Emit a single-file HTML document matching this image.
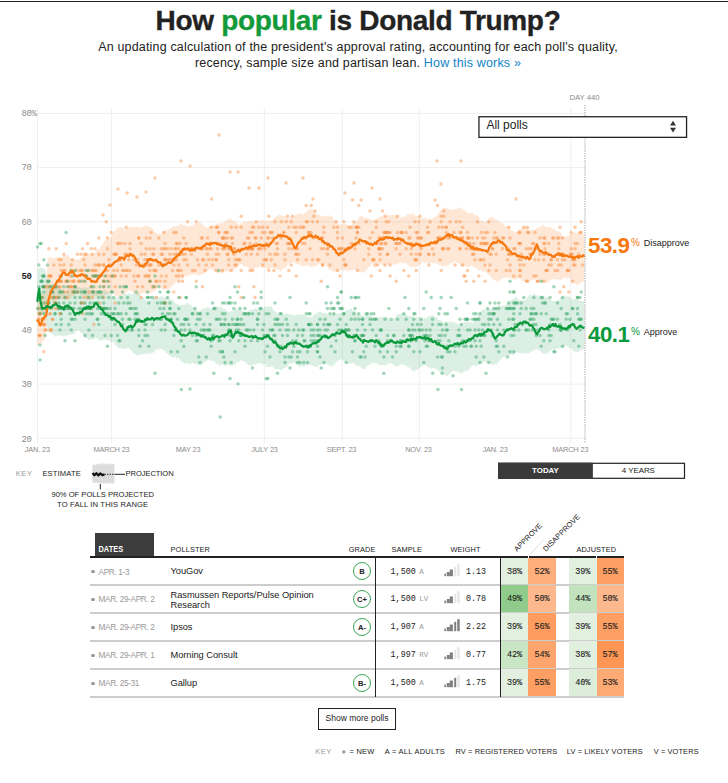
<!DOCTYPE html>
<html><head><meta charset="utf-8"><title>How popular is Donald Trump?</title>
<style>
html,body{margin:0;padding:0;background:#fff}
body{width:728px;height:783px;position:relative;overflow:hidden;font-family:"Liberation Sans",sans-serif;color:#222}
.abs,div,span.a{position:absolute}
.topline{left:0;top:1px;width:728px;height:1px;background:#222}
h1{position:absolute;margin:0;left:0;width:716px;top:5.2px;text-align:center;font-size:28px;line-height:32px;font-weight:bold;letter-spacing:-0.32px;color:#222;white-space:nowrap;-webkit-text-stroke:0.35px currentColor}
h1 b{color:#129a3a}
.sub{left:0;width:716px;text-align:center;font-size:12.5px;line-height:16px;color:#222;white-space:nowrap;letter-spacing:0.17px}
.sub a{color:#1385c8;text-decoration:none}
.ylab{font-family:"Liberation Mono",monospace;font-size:9px;color:#8e8e8e;left:21.5px;line-height:10px;letter-spacing:-0.45px}
.xlab{font-size:7.4px;color:#8c8c8c;line-height:10px;text-align:center;width:60px;top:444.5px;letter-spacing:-0.15px}
.day{left:569.5px;top:92.5px;font-size:7.7px;color:#8c8c8c;line-height:10px;white-space:nowrap}
.select{left:478px;top:116px;width:207px;height:20px;border:1.5px solid #222;background:#fff;font-size:11.6px;line-height:19px}
.selt{left:486.4px;top:116.4px;font-size:12px;line-height:19px;white-space:nowrap}
.big{font-weight:bold;font-size:22.3px;line-height:24px;white-space:nowrap;letter-spacing:-0.5px}
.pct{font-size:10px;line-height:12px}
.lab{font-size:9px;line-height:12px;color:#222;white-space:nowrap}
.key{font-size:7.6px;line-height:10px;white-space:nowrap;letter-spacing:0.15px}
.btn{top:463.9px;height:14px;font-size:7.9px;line-height:14.4px;text-align:center}
.th{font-size:7.4px;line-height:10px;top:544.9px;color:#222;white-space:nowrap;letter-spacing:0.1px}
.sep{left:90px;width:533.6px;height:1.8px;background:#cdcdcd}
.cell{font-family:"Liberation Mono",monospace;font-size:8.5px;text-align:center;color:#222;letter-spacing:-0.1px;-webkit-text-stroke:0.1px #222}
.dot{left:91.2px;width:3.6px;height:3.6px;border-radius:2px;background:#999}
.date{left:98.5px;font-size:8.3px;line-height:12px;color:#999;white-space:nowrap;letter-spacing:-0.38px}
.poll{left:170.5px;font-size:9.3px;line-height:13px;color:#222;white-space:nowrap;letter-spacing:-0.05px}
.grade{left:352.8px;width:16.4px;height:16.4px;border:1px solid #3aa655;border-radius:10px;text-align:center;font-weight:bold;font-size:7.6px;line-height:17px;color:#222}
.mono{font-family:"Liberation Mono",monospace;font-size:8.4px;line-height:12px;color:#222;white-space:nowrap}
.samp{left:390.6px}
.pop{color:#999;position:static;-webkit-text-stroke:0;font-size:7.5px;margin-left:-1.4px}
.wt{left:466px}
.bars{left:443.9px;width:16px;height:12.2px}
.bars i{position:absolute;bottom:0;width:2.7px;display:block}
.more{left:318px;top:708.3px;width:76px;height:19.5px;border:1px solid #222;font-size:8.5px;line-height:19.3px;text-align:center;white-space:nowrap}
.foot{top:746.5px;font-size:7.45px;line-height:10px;white-space:nowrap;color:#222;letter-spacing:0.1px}
</style></head><body>
<div class="topline"></div>
<h1>How <b>popular</b> is Donald Trump?</h1>
<div class="sub" style="top:38.6px">An updating calculation of the president's approval rating, accounting for each poll's quality,</div>
<div class="sub" style="top:55.1px">recency, sample size and partisan lean. <a>How this works &raquo;</a></div>
<svg width="728" height="500" style="position:absolute;left:0;top:0" shape-rendering="geometricPrecision">
<line x1="37.5" x2="585" y1="113.5" y2="113.5" stroke="#efefef" stroke-width="1"/>
<line x1="37.5" x2="585" y1="167.6" y2="167.6" stroke="#efefef" stroke-width="1"/>
<line x1="37.5" x2="585" y1="221.8" y2="221.8" stroke="#efefef" stroke-width="1"/>
<line x1="37.5" x2="585" y1="330.0" y2="330.0" stroke="#efefef" stroke-width="1"/>
<line x1="37.5" x2="585" y1="384.2" y2="384.2" stroke="#efefef" stroke-width="1"/>
<line x1="37.5" x2="585" y1="438.3" y2="438.3" stroke="#efefef" stroke-width="1"/>
<line x1="37.5" x2="37.5" y1="108" y2="443" stroke="#efefef" stroke-width="1"/>
<line x1="111.4" x2="111.4" y1="108" y2="443" stroke="#efefef" stroke-width="1"/>
<line x1="264.3" x2="264.3" y1="108" y2="443" stroke="#efefef" stroke-width="1"/>
<line x1="342.3" x2="342.3" y1="108" y2="443" stroke="#efefef" stroke-width="1"/>
<line x1="419.3" x2="419.3" y1="108" y2="443" stroke="#efefef" stroke-width="1"/>
<line x1="570.8" x2="570.8" y1="108" y2="443" stroke="#efefef" stroke-width="1"/>
<path d="M37.5 293.3 L38.8 293.5 L40.1 294.1 L41.4 293.1 L42.7 292.7 L44.0 293.9 L45.3 291.1 L46.6 279.0 L47.9 258.0 L49.2 257.4 L50.5 256.9 L51.8 257.7 L53.1 258.2 L54.4 258.1 L55.7 258.4 L57.0 256.8 L58.3 257.4 L59.6 256.6 L60.9 258.1 L62.2 257.4 L63.5 255.1 L64.8 255.8 L66.1 255.6 L67.4 254.6 L68.7 256.0 L70.0 257.7 L71.3 258.4 L72.6 258.5 L73.9 260.4 L75.2 259.6 L76.5 260.1 L77.8 259.3 L79.1 259.7 L80.4 257.8 L81.7 257.0 L83.0 255.7 L84.3 254.2 L85.6 255.1 L86.9 254.2 L88.2 254.1 L89.5 253.1 L90.8 252.9 L92.1 253.8 L93.4 254.2 L94.7 253.9 L96.0 251.4 L97.3 249.3 L98.6 248.9 L99.9 248.6 L101.2 245.2 L102.5 244.9 L103.8 242.0 L105.1 240.7 L106.4 239.7 L107.7 239.4 L109.0 238.4 L110.3 238.2 L111.6 236.3 L112.9 232.5 L114.2 231.1 L115.5 231.1 L116.8 228.1 L118.1 227.6 L119.4 227.4 L120.7 226.7 L122.0 227.6 L123.3 228.4 L124.6 228.5 L125.9 229.8 L127.2 227.8 L128.5 227.1 L129.8 228.1 L131.1 226.6 L132.4 227.4 L133.7 226.9 L135.0 227.5 L136.3 226.6 L137.6 226.5 L138.9 228.1 L140.2 227.4 L141.5 227.3 L142.8 227.2 L144.1 226.9 L145.4 225.3 L146.7 225.3 L148.0 226.8 L149.3 226.4 L150.6 226.8 L151.9 229.0 L153.2 229.6 L154.5 232.3 L155.8 231.7 L157.1 234.4 L158.4 234.1 L159.7 233.5 L161.0 234.4 L162.3 232.1 L163.6 231.4 L164.9 230.4 L166.2 230.5 L167.5 230.0 L168.8 229.2 L170.1 228.0 L171.4 228.5 L172.7 226.3 L174.0 226.1 L175.3 226.2 L176.6 226.4 L177.9 225.0 L179.2 224.7 L180.5 224.6 L181.8 223.8 L183.1 225.4 L184.4 225.5 L185.7 225.2 L187.0 226.0 L188.3 227.3 L189.6 226.3 L190.9 225.5 L192.2 226.5 L193.5 224.9 L194.8 224.0 L196.1 223.6 L197.4 223.8 L198.7 221.9 L200.0 222.8 L201.3 222.9 L202.6 224.6 L203.9 225.8 L205.2 227.4 L206.5 227.4 L207.8 227.3 L209.1 226.7 L210.4 226.6 L211.7 225.3 L213.0 226.0 L214.3 225.3 L215.6 225.0 L216.9 223.1 L218.2 224.1 L219.5 224.1 L220.8 223.1 L222.1 223.5 L223.4 222.7 L224.7 221.5 L226.0 220.7 L227.3 219.5 L228.6 219.5 L229.9 217.6 L231.2 219.3 L232.5 220.1 L233.8 220.9 L235.1 221.3 L236.4 221.8 L237.7 224.0 L239.0 225.0 L240.3 223.7 L241.6 223.1 L242.9 222.5 L244.2 221.4 L245.5 222.1 L246.8 222.2 L248.1 221.5 L249.4 220.4 L250.7 221.4 L252.0 220.2 L253.3 222.3 L254.6 221.3 L255.9 220.6 L257.2 221.9 L258.5 220.5 L259.8 220.6 L261.1 219.8 L262.4 220.4 L263.7 220.5 L265.0 221.2 L266.3 219.6 L267.6 221.7 L268.9 220.1 L270.2 220.2 L271.5 220.7 L272.8 219.2 L274.1 218.1 L275.4 217.5 L276.7 215.5 L278.0 216.0 L279.3 214.1 L280.6 215.5 L281.9 215.8 L283.2 215.8 L284.5 215.4 L285.8 218.0 L287.1 216.8 L288.4 218.3 L289.7 218.1 L291.0 216.8 L292.3 217.6 L293.6 217.0 L294.9 215.9 L296.2 214.7 L297.5 214.4 L298.8 214.1 L300.1 212.8 L301.4 214.2 L302.7 214.3 L304.0 213.4 L305.3 213.1 L306.6 210.8 L307.9 211.6 L309.2 208.8 L310.5 209.4 L311.8 208.7 L313.1 210.1 L314.4 211.6 L315.7 212.9 L317.0 213.6 L318.3 214.5 L319.6 215.1 L320.9 216.2 L322.2 216.2 L323.5 215.8 L324.8 216.8 L326.1 215.9 L327.4 215.5 L328.7 214.9 L330.0 216.4 L331.3 216.0 L332.6 217.3 L333.9 219.2 L335.2 220.7 L336.5 222.4 L337.8 222.7 L339.1 223.9 L340.4 224.3 L341.7 224.3 L343.0 224.7 L344.3 223.8 L345.6 224.5 L346.9 224.0 L348.2 226.1 L349.5 225.8 L350.8 225.4 L352.1 224.1 L353.4 223.4 L354.7 221.8 L356.0 221.5 L357.3 220.9 L358.6 217.9 L359.9 216.2 L361.2 215.9 L362.5 216.2 L363.8 217.8 L365.1 218.2 L366.4 218.2 L367.7 218.1 L369.0 218.7 L370.3 219.1 L371.6 220.6 L372.9 219.5 L374.2 220.2 L375.5 219.4 L376.8 218.5 L378.1 217.3 L379.4 217.7 L380.7 216.0 L382.0 216.1 L383.3 217.3 L384.6 217.1 L385.9 216.0 L387.2 215.6 L388.5 214.4 L389.8 215.8 L391.1 214.8 L392.4 215.0 L393.7 215.1 L395.0 214.2 L396.3 215.6 L397.6 215.6 L398.9 217.5 L400.2 218.2 L401.5 216.9 L402.8 216.5 L404.1 216.5 L405.4 216.7 L406.7 215.3 L408.0 213.5 L409.3 214.8 L410.6 214.3 L411.9 213.6 L413.2 213.0 L414.5 215.7 L415.8 215.6 L417.1 215.3 L418.4 216.6 L419.7 217.8 L421.0 218.7 L422.3 217.9 L423.6 218.3 L424.9 217.4 L426.2 217.7 L427.5 219.6 L428.8 218.8 L430.1 218.5 L431.4 219.6 L432.7 218.1 L434.0 217.6 L435.3 217.1 L436.6 216.0 L437.9 214.4 L439.2 212.8 L440.5 210.6 L441.8 208.3 L443.1 209.0 L444.4 206.9 L445.7 207.9 L447.0 208.0 L448.3 209.0 L449.6 209.4 L450.9 208.7 L452.2 210.0 L453.5 210.1 L454.8 209.2 L456.1 208.0 L457.4 209.4 L458.7 208.3 L460.0 206.9 L461.3 207.9 L462.6 210.5 L463.9 209.6 L465.2 210.8 L466.5 212.5 L467.8 213.1 L469.1 213.0 L470.4 213.5 L471.7 212.0 L473.0 212.5 L474.3 215.1 L475.6 215.5 L476.9 214.8 L478.2 216.2 L479.5 218.1 L480.8 221.0 L482.1 220.1 L483.4 221.6 L484.7 222.2 L486.0 221.1 L487.3 221.1 L488.6 218.7 L489.9 217.6 L491.2 216.7 L492.5 218.3 L493.8 216.9 L495.1 219.6 L496.4 219.8 L497.7 219.5 L499.0 222.0 L500.3 221.4 L501.6 223.2 L502.9 223.0 L504.2 225.3 L505.5 226.2 L506.8 227.0 L508.1 225.6 L509.4 228.6 L510.7 229.0 L512.0 230.7 L513.3 230.9 L514.6 231.8 L515.9 231.8 L517.2 232.0 L518.5 229.5 L519.8 228.5 L521.1 228.7 L522.4 227.3 L523.7 227.0 L525.0 225.9 L526.3 227.9 L527.6 226.8 L528.9 229.5 L530.2 230.3 L531.5 229.9 L532.8 229.2 L534.1 230.3 L535.4 228.7 L536.7 228.5 L538.0 226.9 L539.3 228.1 L540.6 226.4 L541.9 225.5 L543.2 224.7 L544.5 226.2 L545.8 227.0 L547.1 227.7 L548.4 226.5 L549.7 227.6 L551.0 227.8 L552.3 229.2 L553.6 228.0 L554.9 229.6 L556.2 231.1 L557.5 231.6 L558.8 231.0 L560.1 232.5 L561.4 233.8 L562.7 236.2 L564.0 236.7 L565.3 236.8 L566.6 236.4 L567.9 235.7 L569.2 235.2 L570.5 234.2 L571.8 233.8 L573.1 232.6 L574.4 232.3 L575.7 232.5 L577.0 232.5 L578.3 232.7 L579.6 231.7 L580.9 233.8 L582.2 234.7 L583.5 233.9 L584.4 234.0 L584.4 280.0 L583.5 281.7 L582.2 281.4 L580.9 283.4 L579.6 283.0 L578.3 285.2 L577.0 285.3 L575.7 283.6 L574.4 283.9 L573.1 282.0 L571.8 281.4 L570.5 278.9 L569.2 277.6 L567.9 278.2 L566.6 278.8 L565.3 277.1 L564.0 278.1 L562.7 278.2 L561.4 279.5 L560.1 280.0 L558.8 278.9 L557.5 280.1 L556.2 280.0 L554.9 278.7 L553.6 279.1 L552.3 279.3 L551.0 279.7 L549.7 280.9 L548.4 282.1 L547.1 282.5 L545.8 282.6 L544.5 283.1 L543.2 282.4 L541.9 281.3 L540.6 282.6 L539.3 281.6 L538.0 278.8 L536.7 278.1 L535.4 280.3 L534.1 280.0 L532.8 279.5 L531.5 280.2 L530.2 280.4 L528.9 282.7 L527.6 281.7 L526.3 281.2 L525.0 280.9 L523.7 280.7 L522.4 281.0 L521.1 279.8 L519.8 277.9 L518.5 277.9 L517.2 278.7 L515.9 279.5 L514.6 279.5 L513.3 279.0 L512.0 279.4 L510.7 277.8 L509.4 277.6 L508.1 278.4 L506.8 276.7 L505.5 278.4 L504.2 277.9 L502.9 278.2 L501.6 278.9 L500.3 280.2 L499.0 280.8 L497.7 281.9 L496.4 280.8 L495.1 280.1 L493.8 280.7 L492.5 278.0 L491.2 277.8 L489.9 275.5 L488.6 274.5 L487.3 273.7 L486.0 271.8 L484.7 271.7 L483.4 272.2 L482.1 271.1 L480.8 269.7 L479.5 270.4 L478.2 270.0 L476.9 268.8 L475.6 267.8 L474.3 267.6 L473.0 266.7 L471.7 266.1 L470.4 265.5 L469.1 266.9 L467.8 266.7 L466.5 266.1 L465.2 267.1 L463.9 265.7 L462.6 266.9 L461.3 266.4 L460.0 264.2 L458.7 262.8 L457.4 263.7 L456.1 261.8 L454.8 261.0 L453.5 262.5 L452.2 263.4 L450.9 262.3 L449.6 264.4 L448.3 265.7 L447.0 266.6 L445.7 266.6 L444.4 265.6 L443.1 267.2 L441.8 266.3 L440.5 265.0 L439.2 264.7 L437.9 264.4 L436.6 262.4 L435.3 263.7 L434.0 263.3 L432.7 263.1 L431.4 262.8 L430.1 262.9 L428.8 263.7 L427.5 262.2 L426.2 262.8 L424.9 263.4 L423.6 261.4 L422.3 261.9 L421.0 264.3 L419.7 265.0 L418.4 265.8 L417.1 266.3 L415.8 267.3 L414.5 266.8 L413.2 266.5 L411.9 267.1 L410.6 266.7 L409.3 266.1 L408.0 265.1 L406.7 263.5 L405.4 262.6 L404.1 263.3 L402.8 263.6 L401.5 262.4 L400.2 262.8 L398.9 262.8 L397.6 263.5 L396.3 265.7 L395.0 263.6 L393.7 264.3 L392.4 265.3 L391.1 263.4 L389.8 264.8 L388.5 264.6 L387.2 264.3 L385.9 265.2 L384.6 264.4 L383.3 264.7 L382.0 265.2 L380.7 264.1 L379.4 263.9 L378.1 263.1 L376.8 264.6 L375.5 263.6 L374.2 263.5 L372.9 263.0 L371.6 263.9 L370.3 267.1 L369.0 266.6 L367.7 268.5 L366.4 269.7 L365.1 272.2 L363.8 272.6 L362.5 272.6 L361.2 272.0 L359.9 272.4 L358.6 270.4 L357.3 271.8 L356.0 269.8 L354.7 270.1 L353.4 269.2 L352.1 270.9 L350.8 270.2 L349.5 270.5 L348.2 270.3 L346.9 271.7 L345.6 269.7 L344.3 270.0 L343.0 271.1 L341.7 269.2 L340.4 271.0 L339.1 269.7 L337.8 270.8 L336.5 272.1 L335.2 271.2 L333.9 272.4 L332.6 271.2 L331.3 270.6 L330.0 269.1 L328.7 269.7 L327.4 266.1 L326.1 266.4 L324.8 264.7 L323.5 265.3 L322.2 264.2 L320.9 264.6 L319.6 263.8 L318.3 264.4 L317.0 265.9 L315.7 265.6 L314.4 266.3 L313.1 266.0 L311.8 267.8 L310.5 266.7 L309.2 265.4 L307.9 265.0 L306.6 266.5 L305.3 265.1 L304.0 266.3 L302.7 266.1 L301.4 266.5 L300.1 265.8 L298.8 263.9 L297.5 264.6 L296.2 263.8 L294.9 263.0 L293.6 261.9 L292.3 262.5 L291.0 263.3 L289.7 263.5 L288.4 263.5 L287.1 266.1 L285.8 267.9 L284.5 267.7 L283.2 269.1 L281.9 270.4 L280.6 271.8 L279.3 269.5 L278.0 269.5 L276.7 269.7 L275.4 268.0 L274.1 268.0 L272.8 268.1 L271.5 267.3 L270.2 269.1 L268.9 268.6 L267.6 269.8 L266.3 268.2 L265.0 267.5 L263.7 267.4 L262.4 268.5 L261.1 266.5 L259.8 266.4 L258.5 267.1 L257.2 268.4 L255.9 266.8 L254.6 269.2 L253.3 269.9 L252.0 270.0 L250.7 269.3 L249.4 269.4 L248.1 267.4 L246.8 266.2 L245.5 266.4 L244.2 266.5 L242.9 264.9 L241.6 264.6 L240.3 264.2 L239.0 265.2 L237.7 267.0 L236.4 267.8 L235.1 268.8 L233.8 270.5 L232.5 270.4 L231.2 270.7 L229.9 272.4 L228.6 271.8 L227.3 271.0 L226.0 271.9 L224.7 271.1 L223.4 271.8 L222.1 273.6 L220.8 273.4 L219.5 272.0 L218.2 273.9 L216.9 272.5 L215.6 272.3 L214.3 270.9 L213.0 270.2 L211.7 269.2 L210.4 268.9 L209.1 269.2 L207.8 271.0 L206.5 271.0 L205.2 271.9 L203.9 274.3 L202.6 273.9 L201.3 274.2 L200.0 275.5 L198.7 275.2 L197.4 274.6 L196.1 275.5 L194.8 273.5 L193.5 274.7 L192.2 273.8 L190.9 275.5 L189.6 274.1 L188.3 276.5 L187.0 275.2 L185.7 275.9 L184.4 276.8 L183.1 278.3 L181.8 279.1 L180.5 279.1 L179.2 281.2 L177.9 279.8 L176.6 280.9 L175.3 282.1 L174.0 284.5 L172.7 285.7 L171.4 287.2 L170.1 287.4 L168.8 290.2 L167.5 289.1 L166.2 289.0 L164.9 289.7 L163.6 289.5 L162.3 288.8 L161.0 288.3 L159.7 286.7 L158.4 288.4 L157.1 287.2 L155.8 290.2 L154.5 290.1 L153.2 292.6 L151.9 291.5 L150.6 293.7 L149.3 293.3 L148.0 294.0 L146.7 293.4 L145.4 293.1 L144.1 292.7 L142.8 293.0 L141.5 294.8 L140.2 293.9 L138.9 295.2 L137.6 295.9 L136.3 294.7 L135.0 293.3 L133.7 292.7 L132.4 292.5 L131.1 290.9 L129.8 290.4 L128.5 290.4 L127.2 291.3 L125.9 292.9 L124.6 293.6 L123.3 294.7 L122.0 295.6 L120.7 296.4 L119.4 297.6 L118.1 295.9 L116.8 295.4 L115.5 295.9 L114.2 293.5 L112.9 293.4 L111.6 292.9 L110.3 293.8 L109.0 293.8 L107.7 294.1 L106.4 294.6 L105.1 294.7 L103.8 294.6 L102.5 297.1 L101.2 296.7 L99.9 295.8 L98.6 295.2 L97.3 297.5 L96.0 296.2 L94.7 296.4 L93.4 296.7 L92.1 299.5 L90.8 299.4 L89.5 300.4 L88.2 299.3 L86.9 300.4 L85.6 298.8 L84.3 298.1 L83.0 296.6 L81.7 294.6 L80.4 295.6 L79.1 294.0 L77.8 293.4 L76.5 294.4 L75.2 294.3 L73.9 296.5 L72.6 295.8 L71.3 297.7 L70.0 299.0 L68.7 299.7 L67.4 299.5 L66.1 299.4 L64.8 298.2 L63.5 299.5 L62.2 299.5 L60.9 298.1 L59.6 297.9 L58.3 299.4 L57.0 299.6 L55.7 300.0 L54.4 301.4 L53.1 301.9 L51.8 301.3 L50.5 300.7 L49.2 300.8 L47.9 300.0 L46.6 324.8 L45.3 340.0 L44.0 340.1 L42.7 341.9 L41.4 343.1 L40.1 344.1 L38.8 344.7 L37.5 346.2Z" fill="#fd8d3c" fill-opacity="0.21"/>
<path d="M37.5 269.1 L38.8 268.7 L40.1 267.5 L41.4 267.7 L42.7 268.9 L44.0 268.3 L45.3 270.1 L46.6 275.2 L47.9 283.8 L49.2 284.2 L50.5 284.3 L51.8 284.6 L53.1 282.7 L54.4 284.3 L55.7 283.2 L57.0 283.9 L58.3 285.6 L59.6 286.8 L60.9 288.0 L62.2 290.0 L63.5 289.4 L64.8 290.4 L66.1 291.6 L67.4 290.4 L68.7 289.6 L70.0 288.9 L71.3 289.2 L72.6 288.5 L73.9 287.6 L75.2 287.8 L76.5 287.4 L77.8 286.4 L79.1 286.8 L80.4 288.2 L81.7 286.9 L83.0 288.5 L84.3 287.3 L85.6 287.2 L86.9 288.2 L88.2 287.4 L89.5 289.6 L90.8 289.9 L92.1 289.6 L93.4 289.7 L94.7 290.3 L96.0 291.8 L97.3 292.1 L98.6 291.6 L99.9 292.0 L101.2 291.4 L102.5 291.7 L103.8 289.9 L105.1 289.9 L106.4 291.0 L107.7 292.1 L109.0 292.7 L110.3 295.1 L111.6 295.6 L112.9 296.8 L114.2 297.7 L115.5 298.4 L116.8 298.4 L118.1 297.0 L119.4 296.4 L120.7 296.8 L122.0 296.1 L123.3 294.9 L124.6 293.3 L125.9 294.0 L127.2 294.4 L128.5 293.6 L129.8 292.9 L131.1 295.1 L132.4 294.7 L133.7 292.5 L135.0 293.1 L136.3 293.4 L137.6 292.8 L138.9 292.8 L140.2 295.4 L141.5 296.7 L142.8 297.3 L144.1 297.8 L145.4 299.7 L146.7 299.8 L148.0 302.2 L149.3 299.9 L150.6 299.8 L151.9 300.1 L153.2 297.6 L154.5 296.7 L155.8 296.0 L157.1 295.9 L158.4 296.7 L159.7 297.6 L161.0 296.2 L162.3 296.5 L163.6 297.9 L164.9 297.0 L166.2 297.2 L167.5 297.1 L168.8 297.8 L170.1 299.9 L171.4 298.5 L172.7 299.7 L174.0 301.8 L175.3 303.2 L176.6 304.2 L177.9 304.0 L179.2 305.8 L180.5 305.2 L181.8 304.5 L183.1 304.8 L184.4 305.1 L185.7 304.5 L187.0 302.7 L188.3 303.0 L189.6 305.4 L190.9 304.3 L192.2 307.2 L193.5 307.4 L194.8 308.3 L196.1 309.2 L197.4 310.2 L198.7 311.5 L200.0 309.3 L201.3 310.5 L202.6 308.6 L203.9 307.7 L205.2 308.7 L206.5 307.5 L207.8 307.1 L209.1 307.7 L210.4 308.7 L211.7 308.7 L213.0 307.7 L214.3 306.0 L215.6 307.4 L216.9 306.6 L218.2 307.0 L219.5 307.2 L220.8 306.1 L222.1 308.1 L223.4 309.1 L224.7 308.9 L226.0 310.3 L227.3 311.2 L228.6 311.7 L229.9 311.9 L231.2 310.9 L232.5 310.5 L233.8 311.3 L235.1 309.3 L236.4 309.3 L237.7 309.6 L239.0 309.3 L240.3 308.4 L241.6 310.5 L242.9 310.8 L244.2 311.7 L245.5 311.4 L246.8 311.5 L248.1 311.4 L249.4 309.7 L250.7 310.3 L252.0 309.2 L253.3 310.1 L254.6 308.3 L255.9 309.3 L257.2 308.9 L258.5 310.0 L259.8 308.7 L261.1 309.5 L262.4 309.1 L263.7 308.6 L265.0 306.1 L266.3 307.3 L267.6 306.4 L268.9 306.2 L270.2 306.6 L271.5 306.0 L272.8 309.3 L274.1 310.0 L275.4 311.4 L276.7 312.6 L278.0 314.8 L279.3 315.6 L280.6 316.2 L281.9 314.6 L283.2 314.7 L284.5 314.2 L285.8 313.6 L287.1 314.1 L288.4 313.5 L289.7 315.6 L291.0 314.6 L292.3 314.4 L293.6 314.5 L294.9 316.0 L296.2 314.5 L297.5 314.7 L298.8 314.2 L300.1 314.9 L301.4 315.1 L302.7 313.7 L304.0 314.8 L305.3 316.1 L306.6 315.8 L307.9 317.4 L309.2 317.4 L310.5 316.4 L311.8 317.3 L313.1 315.8 L314.4 313.7 L315.7 313.8 L317.0 313.4 L318.3 312.0 L319.6 311.6 L320.9 311.5 L322.2 313.0 L323.5 313.1 L324.8 312.7 L326.1 313.6 L327.4 314.0 L328.7 315.6 L330.0 314.9 L331.3 313.2 L332.6 314.8 L333.9 312.3 L335.2 313.5 L336.5 313.0 L337.8 313.7 L339.1 313.0 L340.4 312.1 L341.7 313.1 L343.0 313.4 L344.3 312.7 L345.6 310.8 L346.9 309.6 L348.2 310.0 L349.5 309.5 L350.8 307.9 L352.1 309.7 L353.4 310.7 L354.7 310.4 L356.0 311.6 L357.3 313.7 L358.6 315.4 L359.9 314.5 L361.2 315.3 L362.5 315.5 L363.8 316.3 L365.1 314.8 L366.4 315.4 L367.7 315.2 L369.0 315.7 L370.3 314.8 L371.6 317.2 L372.9 317.7 L374.2 317.1 L375.5 317.9 L376.8 316.5 L378.1 318.1 L379.4 317.0 L380.7 317.2 L382.0 317.3 L383.3 316.1 L384.6 317.8 L385.9 316.5 L387.2 316.7 L388.5 318.5 L389.8 319.9 L391.1 320.1 L392.4 319.9 L393.7 318.2 L395.0 318.3 L396.3 316.2 L397.6 314.0 L398.9 314.2 L400.2 313.9 L401.5 312.7 L402.8 313.3 L404.1 313.0 L405.4 313.8 L406.7 315.0 L408.0 316.0 L409.3 316.5 L410.6 316.0 L411.9 316.0 L413.2 316.8 L414.5 317.7 L415.8 317.8 L417.1 316.8 L418.4 317.1 L419.7 318.1 L421.0 317.7 L422.3 318.9 L423.6 319.6 L424.9 317.7 L426.2 318.0 L427.5 317.5 L428.8 316.6 L430.1 315.7 L431.4 315.4 L432.7 314.5 L434.0 316.3 L435.3 317.4 L436.6 316.5 L437.9 319.9 L439.2 320.0 L440.5 320.2 L441.8 320.8 L443.1 322.9 L444.4 322.6 L445.7 321.0 L447.0 321.5 L448.3 321.7 L449.6 322.5 L450.9 321.0 L452.2 322.5 L453.5 321.8 L454.8 322.4 L456.1 323.0 L457.4 324.1 L458.7 325.0 L460.0 324.5 L461.3 323.5 L462.6 323.0 L463.9 322.1 L465.2 322.0 L466.5 322.1 L467.8 322.6 L469.1 322.0 L470.4 322.7 L471.7 322.4 L473.0 323.2 L474.3 321.0 L475.6 320.7 L476.9 317.8 L478.2 315.3 L479.5 314.3 L480.8 311.5 L482.1 310.1 L483.4 308.9 L484.7 309.8 L486.0 310.3 L487.3 309.0 L488.6 308.9 L489.9 309.1 L491.2 308.8 L492.5 309.3 L493.8 308.0 L495.1 306.8 L496.4 307.8 L497.7 306.6 L499.0 304.8 L500.3 306.6 L501.6 306.2 L502.9 305.1 L504.2 305.5 L505.5 305.7 L506.8 303.7 L508.1 302.7 L509.4 301.2 L510.7 300.5 L512.0 299.5 L513.3 298.7 L514.6 298.5 L515.9 296.6 L517.2 297.7 L518.5 299.6 L519.8 300.2 L521.1 300.3 L522.4 300.8 L523.7 299.8 L525.0 300.7 L526.3 298.9 L527.6 297.4 L528.9 295.7 L530.2 294.5 L531.5 295.8 L532.8 295.3 L534.1 293.5 L535.4 294.5 L536.7 295.3 L538.0 295.7 L539.3 295.7 L540.6 297.2 L541.9 296.0 L543.2 296.5 L544.5 297.6 L545.8 297.1 L547.1 297.2 L548.4 297.6 L549.7 298.6 L551.0 300.1 L552.3 301.3 L553.6 300.7 L554.9 301.2 L556.2 301.0 L557.5 300.3 L558.8 300.7 L560.1 298.7 L561.4 297.0 L562.7 296.3 L564.0 297.0 L565.3 295.3 L566.6 296.9 L567.9 295.9 L569.2 297.1 L570.5 297.6 L571.8 300.0 L573.1 298.9 L574.4 299.2 L575.7 298.8 L577.0 299.2 L578.3 300.2 L579.6 300.2 L580.9 300.8 L582.2 301.3 L583.5 300.9 L584.4 301.0 L584.4 348.0 L583.5 349.7 L582.2 349.4 L580.9 349.6 L579.6 350.4 L578.3 352.5 L577.0 352.0 L575.7 351.0 L574.4 351.7 L573.1 351.1 L571.8 348.2 L570.5 348.3 L569.2 348.0 L567.9 347.2 L566.6 345.5 L565.3 345.5 L564.0 346.9 L562.7 348.6 L561.4 347.3 L560.1 348.7 L558.8 348.1 L557.5 349.1 L556.2 348.5 L554.9 349.6 L553.6 349.7 L552.3 349.0 L551.0 350.4 L549.7 350.8 L548.4 353.3 L547.1 353.8 L545.8 352.6 L544.5 354.8 L543.2 353.4 L541.9 353.0 L540.6 352.1 L539.3 349.8 L538.0 349.9 L536.7 348.6 L535.4 349.3 L534.1 350.5 L532.8 351.4 L531.5 350.8 L530.2 352.9 L528.9 352.9 L527.6 353.8 L526.3 352.8 L525.0 353.4 L523.7 353.2 L522.4 351.9 L521.1 353.6 L519.8 353.6 L518.5 352.7 L517.2 351.8 L515.9 352.5 L514.6 353.7 L513.3 354.9 L512.0 354.7 L510.7 354.5 L509.4 355.8 L508.1 354.9 L506.8 355.2 L505.5 357.2 L504.2 357.1 L502.9 356.7 L501.6 358.2 L500.3 360.1 L499.0 361.2 L497.7 362.1 L496.4 365.2 L495.1 363.8 L493.8 365.3 L492.5 364.4 L491.2 364.3 L489.9 362.3 L488.6 362.4 L487.3 362.5 L486.0 362.4 L484.7 361.1 L483.4 362.1 L482.1 363.2 L480.8 362.9 L479.5 364.9 L478.2 364.2 L476.9 365.8 L475.6 366.5 L474.3 365.1 L473.0 365.3 L471.7 366.1 L470.4 367.6 L469.1 369.2 L467.8 370.9 L466.5 370.6 L465.2 371.5 L463.9 371.9 L462.6 372.4 L461.3 374.2 L460.0 372.9 L458.7 371.8 L457.4 371.5 L456.1 371.7 L454.8 370.3 L453.5 371.3 L452.2 371.5 L450.9 372.5 L449.6 373.7 L448.3 375.3 L447.0 376.4 L445.7 375.3 L444.4 374.8 L443.1 375.0 L441.8 373.6 L440.5 371.5 L439.2 371.7 L437.9 369.9 L436.6 369.3 L435.3 369.1 L434.0 367.8 L432.7 367.8 L431.4 368.9 L430.1 366.9 L428.8 367.8 L427.5 366.1 L426.2 366.1 L424.9 365.0 L423.6 364.8 L422.3 366.3 L421.0 366.7 L419.7 367.9 L418.4 369.0 L417.1 369.8 L415.8 369.8 L414.5 371.8 L413.2 371.2 L411.9 369.7 L410.6 368.8 L409.3 367.6 L408.0 366.7 L406.7 367.1 L405.4 365.0 L404.1 364.9 L402.8 365.1 L401.5 363.8 L400.2 365.1 L398.9 365.3 L397.6 366.3 L396.3 366.2 L395.0 365.9 L393.7 364.8 L392.4 363.7 L391.1 362.9 L389.8 363.1 L388.5 364.4 L387.2 363.1 L385.9 365.7 L384.6 365.7 L383.3 364.2 L382.0 365.8 L380.7 364.9 L379.4 365.8 L378.1 363.6 L376.8 363.4 L375.5 363.7 L374.2 362.0 L372.9 363.7 L371.6 362.3 L370.3 365.0 L369.0 364.6 L367.7 365.8 L366.4 366.3 L365.1 369.0 L363.8 368.7 L362.5 369.4 L361.2 367.7 L359.9 366.0 L358.6 366.5 L357.3 365.1 L356.0 366.0 L354.7 364.2 L353.4 362.9 L352.1 362.6 L350.8 364.0 L349.5 363.5 L348.2 363.8 L346.9 363.0 L345.6 361.7 L344.3 360.9 L343.0 360.8 L341.7 358.8 L340.4 359.8 L339.1 359.7 L337.8 361.7 L336.5 361.6 L335.2 362.9 L333.9 366.1 L332.6 365.0 L331.3 367.0 L330.0 365.2 L328.7 365.5 L327.4 364.2 L326.1 364.4 L324.8 364.4 L323.5 363.5 L322.2 363.9 L320.9 365.2 L319.6 364.5 L318.3 365.9 L317.0 367.0 L315.7 366.5 L314.4 366.8 L313.1 365.9 L311.8 365.3 L310.5 365.2 L309.2 364.5 L307.9 365.1 L306.6 365.7 L305.3 365.5 L304.0 367.1 L302.7 366.4 L301.4 365.5 L300.1 367.3 L298.8 366.8 L297.5 364.8 L296.2 365.2 L294.9 362.7 L293.6 363.2 L292.3 363.5 L291.0 363.2 L289.7 363.5 L288.4 364.3 L287.1 366.2 L285.8 367.4 L284.5 367.8 L283.2 368.8 L281.9 369.8 L280.6 370.2 L279.3 370.2 L278.0 368.4 L276.7 369.5 L275.4 368.9 L274.1 368.1 L272.8 366.9 L271.5 366.2 L270.2 367.3 L268.9 366.9 L267.6 366.9 L266.3 366.7 L265.0 364.1 L263.7 364.2 L262.4 364.4 L261.1 363.1 L259.8 363.0 L258.5 363.3 L257.2 364.1 L255.9 363.8 L254.6 365.2 L253.3 364.1 L252.0 366.2 L250.7 364.7 L249.4 365.7 L248.1 364.3 L246.8 364.5 L245.5 361.7 L244.2 361.3 L242.9 361.1 L241.6 360.2 L240.3 360.3 L239.0 362.6 L237.7 361.8 L236.4 362.8 L235.1 365.5 L233.8 364.7 L232.5 366.0 L231.2 366.1 L229.9 365.5 L228.6 365.3 L227.3 364.1 L226.0 366.1 L224.7 366.0 L223.4 364.3 L222.1 365.3 L220.8 364.3 L219.5 366.0 L218.2 364.2 L216.9 363.8 L215.6 363.4 L214.3 361.1 L213.0 361.6 L211.7 360.3 L210.4 360.9 L209.1 358.7 L207.8 360.7 L206.5 360.2 L205.2 362.7 L203.9 362.2 L202.6 363.9 L201.3 365.6 L200.0 364.5 L198.7 365.6 L197.4 364.3 L196.1 364.5 L194.8 364.1 L193.5 363.2 L192.2 362.6 L190.9 364.0 L189.6 364.1 L188.3 364.3 L187.0 363.2 L185.7 363.0 L184.4 363.8 L183.1 362.0 L181.8 362.0 L180.5 360.2 L179.2 358.2 L177.9 358.6 L176.6 358.2 L175.3 356.7 L174.0 357.7 L172.7 356.9 L171.4 357.7 L170.1 355.5 L168.8 355.0 L167.5 353.4 L166.2 353.5 L164.9 350.2 L163.6 351.1 L162.3 349.0 L161.0 348.7 L159.7 349.3 L158.4 348.8 L157.1 349.9 L155.8 349.4 L154.5 351.8 L153.2 353.2 L151.9 351.9 L150.6 354.4 L149.3 353.1 L148.0 353.7 L146.7 354.6 L145.4 353.0 L144.1 354.2 L142.8 353.5 L141.5 355.0 L140.2 354.2 L138.9 355.2 L137.6 355.8 L136.3 354.9 L135.0 354.1 L133.7 353.2 L132.4 352.3 L131.1 349.8 L129.8 349.1 L128.5 348.0 L127.2 348.1 L125.9 348.7 L124.6 348.8 L123.3 349.1 L122.0 348.0 L120.7 348.8 L119.4 348.1 L118.1 347.6 L116.8 346.0 L115.5 345.6 L114.2 342.3 L112.9 342.3 L111.6 341.9 L110.3 341.4 L109.0 339.2 L107.7 340.8 L106.4 340.1 L105.1 339.6 L103.8 339.5 L102.5 340.3 L101.2 340.8 L99.9 340.2 L98.6 340.0 L97.3 338.3 L96.0 338.0 L94.7 338.7 L93.4 339.7 L92.1 339.0 L90.8 339.6 L89.5 340.3 L88.2 339.2 L86.9 337.7 L85.6 338.2 L84.3 336.5 L83.0 333.9 L81.7 334.0 L80.4 331.8 L79.1 330.6 L77.8 330.4 L76.5 330.6 L75.2 332.4 L73.9 333.9 L72.6 334.8 L71.3 333.8 L70.0 334.4 L68.7 335.1 L67.4 335.3 L66.1 336.6 L64.8 335.0 L63.5 336.4 L62.2 335.8 L60.9 335.9 L59.6 335.2 L58.3 335.4 L57.0 335.5 L55.7 336.7 L54.4 336.6 L53.1 334.3 L51.8 333.7 L50.5 332.7 L49.2 331.7 L47.9 333.3 L46.6 322.0 L45.3 315.3 L44.0 315.4 L42.7 313.6 L41.4 314.4 L40.1 315.6 L38.8 315.0 L37.5 313.0Z" fill="#2ca25f" fill-opacity="0.17"/>
<g fill="#f98b3c" fill-opacity="0.45">
<circle cx="63.8" cy="265.1" r="1.75"/>
<circle cx="45.0" cy="286.7" r="1.75"/>
<circle cx="78.8" cy="281.3" r="1.75"/>
<circle cx="76.2" cy="270.5" r="1.75"/>
<circle cx="42.5" cy="319.2" r="1.75"/>
<circle cx="46.2" cy="303.0" r="1.75"/>
<circle cx="71.2" cy="270.5" r="1.75"/>
<circle cx="56.2" cy="297.5" r="1.75"/>
<circle cx="85.0" cy="254.2" r="1.75"/>
<circle cx="68.8" cy="286.7" r="1.75"/>
<circle cx="111.2" cy="232.6" r="1.75"/>
<circle cx="61.2" cy="270.5" r="1.75"/>
<circle cx="50.0" cy="286.7" r="1.75"/>
<circle cx="98.8" cy="265.1" r="1.75"/>
<circle cx="52.5" cy="319.2" r="1.75"/>
<circle cx="67.5" cy="292.1" r="1.75"/>
<circle cx="80.0" cy="270.5" r="1.75"/>
<circle cx="55.0" cy="286.7" r="1.75"/>
<circle cx="88.8" cy="292.1" r="1.75"/>
<circle cx="82.5" cy="270.5" r="1.75"/>
<circle cx="72.5" cy="286.7" r="1.75"/>
<circle cx="91.2" cy="248.8" r="1.75"/>
<circle cx="57.5" cy="308.4" r="1.75"/>
<circle cx="103.8" cy="281.3" r="1.75"/>
<circle cx="92.5" cy="292.1" r="1.75"/>
<circle cx="48.8" cy="248.8" r="1.75"/>
<circle cx="70.0" cy="275.9" r="1.75"/>
<circle cx="75.0" cy="286.7" r="1.75"/>
<circle cx="42.5" cy="324.6" r="1.75"/>
<circle cx="81.2" cy="303.0" r="1.75"/>
<circle cx="103.8" cy="286.7" r="1.75"/>
<circle cx="82.5" cy="248.8" r="1.75"/>
<circle cx="82.5" cy="313.8" r="1.75"/>
<circle cx="108.8" cy="259.7" r="1.75"/>
<circle cx="73.8" cy="281.3" r="1.75"/>
<circle cx="91.2" cy="286.7" r="1.75"/>
<circle cx="87.5" cy="243.4" r="1.75"/>
<circle cx="61.2" cy="281.3" r="1.75"/>
<circle cx="67.5" cy="281.3" r="1.75"/>
<circle cx="73.8" cy="281.3" r="1.75"/>
<circle cx="52.5" cy="292.1" r="1.75"/>
<circle cx="96.2" cy="270.5" r="1.75"/>
<circle cx="50.0" cy="297.5" r="1.75"/>
<circle cx="103.8" cy="254.2" r="1.75"/>
<circle cx="46.2" cy="330.0" r="1.75"/>
<circle cx="103.8" cy="265.1" r="1.75"/>
<circle cx="100.0" cy="265.1" r="1.75"/>
<circle cx="70.0" cy="286.7" r="1.75"/>
<circle cx="66.2" cy="243.4" r="1.75"/>
<circle cx="51.2" cy="330.0" r="1.75"/>
<circle cx="133.8" cy="259.7" r="1.75"/>
<circle cx="302.5" cy="227.2" r="1.75"/>
<circle cx="358.8" cy="243.4" r="1.75"/>
<circle cx="266.2" cy="243.4" r="1.75"/>
<circle cx="238.8" cy="286.7" r="1.75"/>
<circle cx="415.0" cy="259.7" r="1.75"/>
<circle cx="318.8" cy="259.7" r="1.75"/>
<circle cx="67.5" cy="297.5" r="1.75"/>
<circle cx="528.8" cy="248.8" r="1.75"/>
<circle cx="473.8" cy="281.3" r="1.75"/>
<circle cx="251.2" cy="254.2" r="1.75"/>
<circle cx="383.8" cy="238.0" r="1.75"/>
<circle cx="71.2" cy="265.1" r="1.75"/>
<circle cx="126.2" cy="254.2" r="1.75"/>
<circle cx="223.8" cy="248.8" r="1.75"/>
<circle cx="120.0" cy="259.7" r="1.75"/>
<circle cx="92.5" cy="281.3" r="1.75"/>
<circle cx="515.0" cy="248.8" r="1.75"/>
<circle cx="372.5" cy="232.6" r="1.75"/>
<circle cx="227.5" cy="238.0" r="1.75"/>
<circle cx="236.2" cy="227.2" r="1.75"/>
<circle cx="580.0" cy="232.6" r="1.75"/>
<circle cx="292.5" cy="248.8" r="1.75"/>
<circle cx="93.8" cy="275.9" r="1.75"/>
<circle cx="225.0" cy="248.8" r="1.75"/>
<circle cx="126.2" cy="227.2" r="1.75"/>
<circle cx="50.0" cy="275.9" r="1.75"/>
<circle cx="117.5" cy="270.5" r="1.75"/>
<circle cx="333.8" cy="227.2" r="1.75"/>
<circle cx="572.5" cy="254.2" r="1.75"/>
<circle cx="508.8" cy="254.2" r="1.75"/>
<circle cx="237.5" cy="259.7" r="1.75"/>
<circle cx="128.8" cy="259.7" r="1.75"/>
<circle cx="462.5" cy="265.1" r="1.75"/>
<circle cx="217.5" cy="243.4" r="1.75"/>
<circle cx="575.0" cy="227.2" r="1.75"/>
<circle cx="503.8" cy="238.0" r="1.75"/>
<circle cx="441.2" cy="270.5" r="1.75"/>
<circle cx="161.2" cy="275.9" r="1.75"/>
<circle cx="53.8" cy="297.5" r="1.75"/>
<circle cx="52.5" cy="297.5" r="1.75"/>
<circle cx="416.2" cy="232.6" r="1.75"/>
<circle cx="560.0" cy="292.1" r="1.75"/>
<circle cx="577.5" cy="243.4" r="1.75"/>
<circle cx="558.8" cy="265.1" r="1.75"/>
<circle cx="161.2" cy="254.2" r="1.75"/>
<circle cx="145.0" cy="254.2" r="1.75"/>
<circle cx="528.8" cy="232.6" r="1.75"/>
<circle cx="496.2" cy="270.5" r="1.75"/>
<circle cx="473.8" cy="243.4" r="1.75"/>
<circle cx="83.8" cy="297.5" r="1.75"/>
<circle cx="465.0" cy="275.9" r="1.75"/>
<circle cx="447.5" cy="248.8" r="1.75"/>
<circle cx="468.8" cy="243.4" r="1.75"/>
<circle cx="218.8" cy="232.6" r="1.75"/>
<circle cx="253.8" cy="286.7" r="1.75"/>
<circle cx="256.2" cy="221.8" r="1.75"/>
<circle cx="130.0" cy="270.5" r="1.75"/>
<circle cx="107.5" cy="248.8" r="1.75"/>
<circle cx="477.5" cy="221.8" r="1.75"/>
<circle cx="117.5" cy="243.4" r="1.75"/>
<circle cx="396.2" cy="281.3" r="1.75"/>
<circle cx="228.8" cy="259.7" r="1.75"/>
<circle cx="45.0" cy="308.4" r="1.75"/>
<circle cx="567.5" cy="270.5" r="1.75"/>
<circle cx="547.5" cy="270.5" r="1.75"/>
<circle cx="275.0" cy="221.8" r="1.75"/>
<circle cx="152.5" cy="286.7" r="1.75"/>
<circle cx="175.0" cy="259.7" r="1.75"/>
<circle cx="357.5" cy="232.6" r="1.75"/>
<circle cx="178.8" cy="265.1" r="1.75"/>
<circle cx="535.0" cy="248.8" r="1.75"/>
<circle cx="231.2" cy="270.5" r="1.75"/>
<circle cx="531.2" cy="248.8" r="1.75"/>
<circle cx="267.5" cy="227.2" r="1.75"/>
<circle cx="327.5" cy="254.2" r="1.75"/>
<circle cx="323.8" cy="227.2" r="1.75"/>
<circle cx="137.5" cy="259.7" r="1.75"/>
<circle cx="40.0" cy="313.8" r="1.75"/>
<circle cx="296.2" cy="248.8" r="1.75"/>
<circle cx="433.8" cy="254.2" r="1.75"/>
<circle cx="321.2" cy="248.8" r="1.75"/>
<circle cx="341.2" cy="248.8" r="1.75"/>
<circle cx="343.8" cy="259.7" r="1.75"/>
<circle cx="173.8" cy="265.1" r="1.75"/>
<circle cx="315.0" cy="210.9" r="1.75"/>
<circle cx="343.8" cy="248.8" r="1.75"/>
<circle cx="280.0" cy="275.9" r="1.75"/>
<circle cx="372.5" cy="259.7" r="1.75"/>
<circle cx="416.2" cy="243.4" r="1.75"/>
<circle cx="285.0" cy="259.7" r="1.75"/>
<circle cx="551.2" cy="259.7" r="1.75"/>
<circle cx="420.0" cy="216.3" r="1.75"/>
<circle cx="178.8" cy="281.3" r="1.75"/>
<circle cx="343.8" cy="221.8" r="1.75"/>
<circle cx="112.5" cy="275.9" r="1.75"/>
<circle cx="103.8" cy="281.3" r="1.75"/>
<circle cx="168.8" cy="259.7" r="1.75"/>
<circle cx="77.5" cy="292.1" r="1.75"/>
<circle cx="527.5" cy="281.3" r="1.75"/>
<circle cx="121.2" cy="265.1" r="1.75"/>
<circle cx="115.0" cy="286.7" r="1.75"/>
<circle cx="520.0" cy="243.4" r="1.75"/>
<circle cx="557.5" cy="259.7" r="1.75"/>
<circle cx="255.0" cy="297.5" r="1.75"/>
<circle cx="492.5" cy="243.4" r="1.75"/>
<circle cx="126.2" cy="275.9" r="1.75"/>
<circle cx="222.5" cy="238.0" r="1.75"/>
<circle cx="145.0" cy="275.9" r="1.75"/>
<circle cx="48.8" cy="275.9" r="1.75"/>
<circle cx="340.0" cy="254.2" r="1.75"/>
<circle cx="218.8" cy="243.4" r="1.75"/>
<circle cx="378.8" cy="248.8" r="1.75"/>
<circle cx="575.0" cy="259.7" r="1.75"/>
<circle cx="468.8" cy="238.0" r="1.75"/>
<circle cx="182.5" cy="254.2" r="1.75"/>
<circle cx="58.8" cy="281.3" r="1.75"/>
<circle cx="108.8" cy="281.3" r="1.75"/>
<circle cx="268.8" cy="216.3" r="1.75"/>
<circle cx="178.8" cy="270.5" r="1.75"/>
<circle cx="118.8" cy="243.4" r="1.75"/>
<circle cx="420.0" cy="254.2" r="1.75"/>
<circle cx="86.2" cy="254.2" r="1.75"/>
<circle cx="270.0" cy="232.6" r="1.75"/>
<circle cx="77.5" cy="254.2" r="1.75"/>
<circle cx="475.0" cy="259.7" r="1.75"/>
<circle cx="83.8" cy="275.9" r="1.75"/>
<circle cx="508.8" cy="254.2" r="1.75"/>
<circle cx="285.0" cy="254.2" r="1.75"/>
<circle cx="543.8" cy="238.0" r="1.75"/>
<circle cx="183.8" cy="238.0" r="1.75"/>
<circle cx="167.5" cy="248.8" r="1.75"/>
<circle cx="97.5" cy="275.9" r="1.75"/>
<circle cx="147.5" cy="259.7" r="1.75"/>
<circle cx="207.5" cy="254.2" r="1.75"/>
<circle cx="196.2" cy="221.8" r="1.75"/>
<circle cx="311.2" cy="232.6" r="1.75"/>
<circle cx="47.5" cy="286.7" r="1.75"/>
<circle cx="173.8" cy="232.6" r="1.75"/>
<circle cx="338.8" cy="248.8" r="1.75"/>
<circle cx="141.2" cy="297.5" r="1.75"/>
<circle cx="95.0" cy="270.5" r="1.75"/>
<circle cx="485.0" cy="265.1" r="1.75"/>
<circle cx="493.8" cy="238.0" r="1.75"/>
<circle cx="252.5" cy="270.5" r="1.75"/>
<circle cx="573.8" cy="259.7" r="1.75"/>
<circle cx="225.0" cy="238.0" r="1.75"/>
<circle cx="385.0" cy="265.1" r="1.75"/>
<circle cx="258.8" cy="248.8" r="1.75"/>
<circle cx="108.8" cy="265.1" r="1.75"/>
<circle cx="76.2" cy="275.9" r="1.75"/>
<circle cx="126.2" cy="270.5" r="1.75"/>
<circle cx="83.8" cy="259.7" r="1.75"/>
<circle cx="403.8" cy="270.5" r="1.75"/>
<circle cx="191.2" cy="248.8" r="1.75"/>
<circle cx="288.8" cy="227.2" r="1.75"/>
<circle cx="123.8" cy="270.5" r="1.75"/>
<circle cx="562.5" cy="254.2" r="1.75"/>
<circle cx="568.8" cy="270.5" r="1.75"/>
<circle cx="565.0" cy="259.7" r="1.75"/>
<circle cx="206.2" cy="248.8" r="1.75"/>
<circle cx="246.2" cy="248.8" r="1.75"/>
<circle cx="296.2" cy="254.2" r="1.75"/>
<circle cx="313.8" cy="238.0" r="1.75"/>
<circle cx="40.0" cy="313.8" r="1.75"/>
<circle cx="256.2" cy="238.0" r="1.75"/>
<circle cx="60.0" cy="265.1" r="1.75"/>
<circle cx="165.0" cy="259.7" r="1.75"/>
<circle cx="357.5" cy="270.5" r="1.75"/>
<circle cx="396.2" cy="243.4" r="1.75"/>
<circle cx="428.8" cy="232.6" r="1.75"/>
<circle cx="216.2" cy="259.7" r="1.75"/>
<circle cx="575.0" cy="243.4" r="1.75"/>
<circle cx="388.8" cy="221.8" r="1.75"/>
<circle cx="61.2" cy="259.7" r="1.75"/>
<circle cx="380.0" cy="270.5" r="1.75"/>
<circle cx="438.8" cy="238.0" r="1.75"/>
<circle cx="323.8" cy="248.8" r="1.75"/>
<circle cx="312.5" cy="221.8" r="1.75"/>
<circle cx="488.8" cy="270.5" r="1.75"/>
<circle cx="356.2" cy="227.2" r="1.75"/>
<circle cx="416.2" cy="259.7" r="1.75"/>
<circle cx="162.5" cy="254.2" r="1.75"/>
<circle cx="235.0" cy="248.8" r="1.75"/>
<circle cx="95.0" cy="265.1" r="1.75"/>
<circle cx="380.0" cy="259.7" r="1.75"/>
<circle cx="380.0" cy="248.8" r="1.75"/>
<circle cx="38.8" cy="335.4" r="1.75"/>
<circle cx="473.8" cy="248.8" r="1.75"/>
<circle cx="330.0" cy="265.1" r="1.75"/>
<circle cx="397.5" cy="216.3" r="1.75"/>
<circle cx="175.0" cy="248.8" r="1.75"/>
<circle cx="78.8" cy="281.3" r="1.75"/>
<circle cx="150.0" cy="238.0" r="1.75"/>
<circle cx="441.2" cy="221.8" r="1.75"/>
<circle cx="246.2" cy="254.2" r="1.75"/>
<circle cx="298.8" cy="254.2" r="1.75"/>
<circle cx="375.0" cy="265.1" r="1.75"/>
<circle cx="388.8" cy="232.6" r="1.75"/>
<circle cx="176.2" cy="254.2" r="1.75"/>
<circle cx="443.8" cy="248.8" r="1.75"/>
<circle cx="43.8" cy="286.7" r="1.75"/>
<circle cx="71.2" cy="281.3" r="1.75"/>
<circle cx="415.0" cy="221.8" r="1.75"/>
<circle cx="406.2" cy="248.8" r="1.75"/>
<circle cx="291.2" cy="221.8" r="1.75"/>
<circle cx="292.5" cy="216.3" r="1.75"/>
<circle cx="146.2" cy="238.0" r="1.75"/>
<circle cx="571.2" cy="254.2" r="1.75"/>
<circle cx="288.8" cy="243.4" r="1.75"/>
<circle cx="485.0" cy="232.6" r="1.75"/>
<circle cx="183.8" cy="259.7" r="1.75"/>
<circle cx="152.5" cy="254.2" r="1.75"/>
<circle cx="355.0" cy="248.8" r="1.75"/>
<circle cx="115.0" cy="303.0" r="1.75"/>
<circle cx="110.0" cy="275.9" r="1.75"/>
<circle cx="485.0" cy="281.3" r="1.75"/>
<circle cx="421.2" cy="248.8" r="1.75"/>
<circle cx="163.8" cy="248.8" r="1.75"/>
<circle cx="51.2" cy="308.4" r="1.75"/>
<circle cx="40.0" cy="335.4" r="1.75"/>
<circle cx="202.5" cy="248.8" r="1.75"/>
<circle cx="113.8" cy="270.5" r="1.75"/>
<circle cx="496.2" cy="238.0" r="1.75"/>
<circle cx="38.8" cy="313.8" r="1.75"/>
<circle cx="102.5" cy="308.4" r="1.75"/>
<circle cx="543.8" cy="259.7" r="1.75"/>
<circle cx="196.2" cy="281.3" r="1.75"/>
<circle cx="241.2" cy="297.5" r="1.75"/>
<circle cx="358.8" cy="205.5" r="1.75"/>
<circle cx="235.0" cy="259.7" r="1.75"/>
<circle cx="63.8" cy="270.5" r="1.75"/>
<circle cx="92.5" cy="270.5" r="1.75"/>
<circle cx="548.8" cy="265.1" r="1.75"/>
<circle cx="173.8" cy="259.7" r="1.75"/>
<circle cx="141.2" cy="243.4" r="1.75"/>
<circle cx="241.2" cy="216.3" r="1.75"/>
<circle cx="481.2" cy="259.7" r="1.75"/>
<circle cx="382.5" cy="210.9" r="1.75"/>
<circle cx="337.5" cy="270.5" r="1.75"/>
<circle cx="430.0" cy="221.8" r="1.75"/>
<circle cx="283.8" cy="232.6" r="1.75"/>
<circle cx="448.8" cy="248.8" r="1.75"/>
<circle cx="63.8" cy="292.1" r="1.75"/>
<circle cx="543.8" cy="243.4" r="1.75"/>
<circle cx="225.0" cy="232.6" r="1.75"/>
<circle cx="200.0" cy="248.8" r="1.75"/>
<circle cx="180.0" cy="297.5" r="1.75"/>
<circle cx="396.2" cy="248.8" r="1.75"/>
<circle cx="252.5" cy="227.2" r="1.75"/>
<circle cx="128.8" cy="254.2" r="1.75"/>
<circle cx="532.5" cy="243.4" r="1.75"/>
<circle cx="308.8" cy="232.6" r="1.75"/>
<circle cx="581.2" cy="221.8" r="1.75"/>
<circle cx="283.8" cy="232.6" r="1.75"/>
<circle cx="87.5" cy="270.5" r="1.75"/>
<circle cx="223.8" cy="238.0" r="1.75"/>
<circle cx="178.8" cy="248.8" r="1.75"/>
<circle cx="348.8" cy="227.2" r="1.75"/>
<circle cx="262.5" cy="265.1" r="1.75"/>
<circle cx="263.8" cy="259.7" r="1.75"/>
<circle cx="222.5" cy="248.8" r="1.75"/>
<circle cx="71.2" cy="286.7" r="1.75"/>
<circle cx="106.2" cy="221.8" r="1.75"/>
<circle cx="312.5" cy="259.7" r="1.75"/>
<circle cx="155.0" cy="286.7" r="1.75"/>
<circle cx="185.0" cy="254.2" r="1.75"/>
<circle cx="281.2" cy="221.8" r="1.75"/>
<circle cx="558.8" cy="238.0" r="1.75"/>
<circle cx="50.0" cy="330.0" r="1.75"/>
<circle cx="55.0" cy="303.0" r="1.75"/>
<circle cx="296.2" cy="275.9" r="1.75"/>
<circle cx="358.8" cy="227.2" r="1.75"/>
<circle cx="543.8" cy="254.2" r="1.75"/>
<circle cx="488.8" cy="221.8" r="1.75"/>
<circle cx="173.8" cy="292.1" r="1.75"/>
<circle cx="97.5" cy="265.1" r="1.75"/>
<circle cx="410.0" cy="227.2" r="1.75"/>
<circle cx="551.2" cy="259.7" r="1.75"/>
<circle cx="455.0" cy="265.1" r="1.75"/>
<circle cx="287.5" cy="243.4" r="1.75"/>
<circle cx="465.0" cy="243.4" r="1.75"/>
<circle cx="165.0" cy="243.4" r="1.75"/>
<circle cx="203.8" cy="259.7" r="1.75"/>
<circle cx="107.5" cy="270.5" r="1.75"/>
<circle cx="418.8" cy="221.8" r="1.75"/>
<circle cx="98.8" cy="254.2" r="1.75"/>
<circle cx="356.2" cy="238.0" r="1.75"/>
<circle cx="250.0" cy="243.4" r="1.75"/>
<circle cx="43.8" cy="286.7" r="1.75"/>
<circle cx="202.5" cy="286.7" r="1.75"/>
<circle cx="390.0" cy="232.6" r="1.75"/>
<circle cx="520.0" cy="270.5" r="1.75"/>
<circle cx="172.5" cy="259.7" r="1.75"/>
<circle cx="562.5" cy="259.7" r="1.75"/>
<circle cx="50.0" cy="313.8" r="1.75"/>
<circle cx="310.0" cy="248.8" r="1.75"/>
<circle cx="177.5" cy="270.5" r="1.75"/>
<circle cx="402.5" cy="232.6" r="1.75"/>
<circle cx="56.2" cy="297.5" r="1.75"/>
<circle cx="222.5" cy="270.5" r="1.75"/>
<circle cx="146.2" cy="248.8" r="1.75"/>
<circle cx="472.5" cy="248.8" r="1.75"/>
<circle cx="150.0" cy="281.3" r="1.75"/>
<circle cx="567.5" cy="270.5" r="1.75"/>
<circle cx="163.8" cy="232.6" r="1.75"/>
<circle cx="158.8" cy="265.1" r="1.75"/>
<circle cx="557.5" cy="270.5" r="1.75"/>
<circle cx="308.8" cy="232.6" r="1.75"/>
<circle cx="265.0" cy="232.6" r="1.75"/>
<circle cx="401.2" cy="232.6" r="1.75"/>
<circle cx="252.5" cy="248.8" r="1.75"/>
<circle cx="153.8" cy="254.2" r="1.75"/>
<circle cx="66.2" cy="281.3" r="1.75"/>
<circle cx="70.0" cy="308.4" r="1.75"/>
<circle cx="520.0" cy="232.6" r="1.75"/>
<circle cx="437.5" cy="205.5" r="1.75"/>
<circle cx="217.5" cy="248.8" r="1.75"/>
<circle cx="138.8" cy="238.0" r="1.75"/>
<circle cx="55.0" cy="303.0" r="1.75"/>
<circle cx="400.0" cy="254.2" r="1.75"/>
<circle cx="218.8" cy="232.6" r="1.75"/>
<circle cx="130.0" cy="248.8" r="1.75"/>
<circle cx="230.0" cy="248.8" r="1.75"/>
<circle cx="560.0" cy="227.2" r="1.75"/>
<circle cx="151.2" cy="232.6" r="1.75"/>
<circle cx="232.5" cy="238.0" r="1.75"/>
<circle cx="273.8" cy="270.5" r="1.75"/>
<circle cx="65.0" cy="297.5" r="1.75"/>
<circle cx="540.0" cy="254.2" r="1.75"/>
<circle cx="142.5" cy="286.7" r="1.75"/>
<circle cx="53.8" cy="265.1" r="1.75"/>
<circle cx="262.5" cy="232.6" r="1.75"/>
<circle cx="60.0" cy="313.8" r="1.75"/>
<circle cx="56.2" cy="248.8" r="1.75"/>
<circle cx="177.5" cy="243.4" r="1.75"/>
<circle cx="446.2" cy="227.2" r="1.75"/>
<circle cx="186.2" cy="259.7" r="1.75"/>
<circle cx="561.2" cy="265.1" r="1.75"/>
<circle cx="428.8" cy="254.2" r="1.75"/>
<circle cx="210.0" cy="248.8" r="1.75"/>
<circle cx="450.0" cy="238.0" r="1.75"/>
<circle cx="537.5" cy="281.3" r="1.75"/>
<circle cx="51.2" cy="330.0" r="1.75"/>
<circle cx="165.0" cy="303.0" r="1.75"/>
<circle cx="558.8" cy="248.8" r="1.75"/>
<circle cx="248.8" cy="248.8" r="1.75"/>
<circle cx="307.5" cy="221.8" r="1.75"/>
<circle cx="545.0" cy="243.4" r="1.75"/>
<circle cx="441.2" cy="216.3" r="1.75"/>
<circle cx="487.5" cy="243.4" r="1.75"/>
<circle cx="216.2" cy="270.5" r="1.75"/>
<circle cx="212.5" cy="265.1" r="1.75"/>
<circle cx="81.2" cy="254.2" r="1.75"/>
<circle cx="145.0" cy="259.7" r="1.75"/>
<circle cx="72.5" cy="292.1" r="1.75"/>
<circle cx="56.2" cy="303.0" r="1.75"/>
<circle cx="572.5" cy="259.7" r="1.75"/>
<circle cx="520.0" cy="243.4" r="1.75"/>
<circle cx="83.8" cy="281.3" r="1.75"/>
<circle cx="90.0" cy="308.4" r="1.75"/>
<circle cx="281.2" cy="238.0" r="1.75"/>
<circle cx="165.0" cy="281.3" r="1.75"/>
<circle cx="406.2" cy="232.6" r="1.75"/>
<circle cx="446.2" cy="227.2" r="1.75"/>
<circle cx="103.8" cy="297.5" r="1.75"/>
<circle cx="496.2" cy="254.2" r="1.75"/>
<circle cx="241.2" cy="227.2" r="1.75"/>
<circle cx="441.2" cy="238.0" r="1.75"/>
<circle cx="171.2" cy="248.8" r="1.75"/>
<circle cx="121.2" cy="243.4" r="1.75"/>
<circle cx="216.2" cy="259.7" r="1.75"/>
<circle cx="253.8" cy="227.2" r="1.75"/>
<circle cx="163.8" cy="265.1" r="1.75"/>
<circle cx="478.8" cy="275.9" r="1.75"/>
<circle cx="93.8" cy="324.6" r="1.75"/>
<circle cx="296.2" cy="227.2" r="1.75"/>
<circle cx="537.5" cy="281.3" r="1.75"/>
<circle cx="60.0" cy="286.7" r="1.75"/>
<circle cx="141.2" cy="254.2" r="1.75"/>
<circle cx="568.8" cy="292.1" r="1.75"/>
<circle cx="241.2" cy="270.5" r="1.75"/>
<circle cx="510.0" cy="265.1" r="1.75"/>
<circle cx="462.5" cy="238.0" r="1.75"/>
<circle cx="553.8" cy="238.0" r="1.75"/>
<circle cx="376.2" cy="227.2" r="1.75"/>
<circle cx="156.2" cy="270.5" r="1.75"/>
<circle cx="148.8" cy="259.7" r="1.75"/>
<circle cx="176.2" cy="275.9" r="1.75"/>
<circle cx="148.8" cy="275.9" r="1.75"/>
<circle cx="43.8" cy="324.6" r="1.75"/>
<circle cx="138.8" cy="238.0" r="1.75"/>
<circle cx="207.5" cy="238.0" r="1.75"/>
<circle cx="336.2" cy="221.8" r="1.75"/>
<circle cx="72.5" cy="259.7" r="1.75"/>
<circle cx="337.5" cy="238.0" r="1.75"/>
<circle cx="386.2" cy="232.6" r="1.75"/>
<circle cx="417.5" cy="238.0" r="1.75"/>
<circle cx="261.2" cy="248.8" r="1.75"/>
<circle cx="558.8" cy="243.4" r="1.75"/>
<circle cx="208.8" cy="259.7" r="1.75"/>
<circle cx="265.0" cy="248.8" r="1.75"/>
<circle cx="510.0" cy="238.0" r="1.75"/>
<circle cx="145.0" cy="265.1" r="1.75"/>
<circle cx="435.0" cy="243.4" r="1.75"/>
<circle cx="530.0" cy="254.2" r="1.75"/>
<circle cx="268.8" cy="238.0" r="1.75"/>
<circle cx="520.0" cy="270.5" r="1.75"/>
<circle cx="288.8" cy="238.0" r="1.75"/>
<circle cx="338.8" cy="248.8" r="1.75"/>
<circle cx="387.5" cy="232.6" r="1.75"/>
<circle cx="377.5" cy="243.4" r="1.75"/>
<circle cx="240.0" cy="259.7" r="1.75"/>
<circle cx="192.5" cy="248.8" r="1.75"/>
<circle cx="322.5" cy="238.0" r="1.75"/>
<circle cx="305.0" cy="243.4" r="1.75"/>
<circle cx="477.5" cy="238.0" r="1.75"/>
<circle cx="106.2" cy="275.9" r="1.75"/>
<circle cx="552.5" cy="238.0" r="1.75"/>
<circle cx="66.2" cy="281.3" r="1.75"/>
<circle cx="543.8" cy="281.3" r="1.75"/>
<circle cx="376.2" cy="221.8" r="1.75"/>
<circle cx="487.5" cy="232.6" r="1.75"/>
<circle cx="158.8" cy="238.0" r="1.75"/>
<circle cx="258.8" cy="227.2" r="1.75"/>
<circle cx="137.5" cy="286.7" r="1.75"/>
<circle cx="156.2" cy="281.3" r="1.75"/>
<circle cx="247.5" cy="238.0" r="1.75"/>
<circle cx="105.0" cy="270.5" r="1.75"/>
<circle cx="527.5" cy="227.2" r="1.75"/>
<circle cx="60.0" cy="313.8" r="1.75"/>
<circle cx="58.8" cy="297.5" r="1.75"/>
<circle cx="495.0" cy="232.6" r="1.75"/>
<circle cx="337.5" cy="232.6" r="1.75"/>
<circle cx="380.0" cy="248.8" r="1.75"/>
<circle cx="356.2" cy="227.2" r="1.75"/>
<circle cx="270.0" cy="254.2" r="1.75"/>
<circle cx="277.5" cy="254.2" r="1.75"/>
<circle cx="50.0" cy="313.8" r="1.75"/>
<circle cx="166.2" cy="275.9" r="1.75"/>
<circle cx="455.0" cy="238.0" r="1.75"/>
<circle cx="135.0" cy="281.3" r="1.75"/>
<circle cx="296.2" cy="232.6" r="1.75"/>
<circle cx="272.5" cy="238.0" r="1.75"/>
<circle cx="87.5" cy="297.5" r="1.75"/>
<circle cx="60.0" cy="275.9" r="1.75"/>
<circle cx="385.0" cy="216.3" r="1.75"/>
<circle cx="462.5" cy="227.2" r="1.75"/>
<circle cx="317.5" cy="221.8" r="1.75"/>
<circle cx="243.8" cy="243.4" r="1.75"/>
<circle cx="557.5" cy="238.0" r="1.75"/>
<circle cx="581.2" cy="232.6" r="1.75"/>
<circle cx="437.5" cy="238.0" r="1.75"/>
<circle cx="573.8" cy="265.1" r="1.75"/>
<circle cx="306.2" cy="205.5" r="1.75"/>
<circle cx="127.5" cy="270.5" r="1.75"/>
<circle cx="468.8" cy="238.0" r="1.75"/>
<circle cx="228.8" cy="248.8" r="1.75"/>
<circle cx="450.0" cy="221.8" r="1.75"/>
<circle cx="187.5" cy="221.8" r="1.75"/>
<circle cx="482.5" cy="238.0" r="1.75"/>
<circle cx="540.0" cy="238.0" r="1.75"/>
<circle cx="151.2" cy="265.1" r="1.75"/>
<circle cx="211.2" cy="227.2" r="1.75"/>
<circle cx="57.5" cy="281.3" r="1.75"/>
<circle cx="548.8" cy="243.4" r="1.75"/>
<circle cx="408.8" cy="238.0" r="1.75"/>
<circle cx="466.2" cy="248.8" r="1.75"/>
<circle cx="100.0" cy="303.0" r="1.75"/>
<circle cx="233.8" cy="254.2" r="1.75"/>
<circle cx="513.8" cy="275.9" r="1.75"/>
<circle cx="520.0" cy="265.1" r="1.75"/>
<circle cx="95.0" cy="248.8" r="1.75"/>
<circle cx="252.5" cy="248.8" r="1.75"/>
<circle cx="473.8" cy="254.2" r="1.75"/>
<circle cx="352.5" cy="200.1" r="1.75"/>
<circle cx="233.8" cy="248.8" r="1.75"/>
<circle cx="133.8" cy="275.9" r="1.75"/>
<circle cx="443.8" cy="210.9" r="1.75"/>
<circle cx="176.2" cy="248.8" r="1.75"/>
<circle cx="386.2" cy="221.8" r="1.75"/>
<circle cx="400.0" cy="243.4" r="1.75"/>
<circle cx="208.8" cy="243.4" r="1.75"/>
<circle cx="118.8" cy="259.7" r="1.75"/>
<circle cx="373.8" cy="259.7" r="1.75"/>
<circle cx="526.2" cy="248.8" r="1.75"/>
<circle cx="110.0" cy="265.1" r="1.75"/>
<circle cx="50.0" cy="275.9" r="1.75"/>
<circle cx="38.8" cy="319.2" r="1.75"/>
<circle cx="232.5" cy="243.4" r="1.75"/>
<circle cx="160.0" cy="281.3" r="1.75"/>
<circle cx="148.8" cy="275.9" r="1.75"/>
<circle cx="378.8" cy="248.8" r="1.75"/>
<circle cx="548.8" cy="254.2" r="1.75"/>
<circle cx="170.0" cy="254.2" r="1.75"/>
<circle cx="386.2" cy="232.6" r="1.75"/>
<circle cx="513.8" cy="248.8" r="1.75"/>
<circle cx="181.2" cy="270.5" r="1.75"/>
<circle cx="43.8" cy="324.6" r="1.75"/>
<circle cx="228.8" cy="265.1" r="1.75"/>
<circle cx="390.0" cy="275.9" r="1.75"/>
<circle cx="438.8" cy="227.2" r="1.75"/>
<circle cx="173.8" cy="254.2" r="1.75"/>
<circle cx="327.5" cy="248.8" r="1.75"/>
<circle cx="258.8" cy="248.8" r="1.75"/>
<circle cx="462.5" cy="238.0" r="1.75"/>
<circle cx="43.8" cy="351.7" r="1.75"/>
<circle cx="115.0" cy="275.9" r="1.75"/>
<circle cx="146.2" cy="275.9" r="1.75"/>
<circle cx="387.5" cy="254.2" r="1.75"/>
<circle cx="481.2" cy="243.4" r="1.75"/>
<circle cx="201.2" cy="238.0" r="1.75"/>
<circle cx="63.8" cy="254.2" r="1.75"/>
<circle cx="428.8" cy="265.1" r="1.75"/>
<circle cx="41.2" cy="297.5" r="1.75"/>
<circle cx="291.2" cy="265.1" r="1.75"/>
<circle cx="442.5" cy="248.8" r="1.75"/>
<circle cx="95.0" cy="275.9" r="1.75"/>
<circle cx="165.0" cy="248.8" r="1.75"/>
<circle cx="447.5" cy="238.0" r="1.75"/>
<circle cx="417.5" cy="232.6" r="1.75"/>
<circle cx="182.5" cy="275.9" r="1.75"/>
<circle cx="340.0" cy="275.9" r="1.75"/>
<circle cx="323.8" cy="232.6" r="1.75"/>
<circle cx="182.5" cy="281.3" r="1.75"/>
<circle cx="156.2" cy="297.5" r="1.75"/>
<circle cx="518.8" cy="243.4" r="1.75"/>
<circle cx="166.2" cy="259.7" r="1.75"/>
<circle cx="443.8" cy="216.3" r="1.75"/>
<circle cx="216.2" cy="254.2" r="1.75"/>
<circle cx="518.8" cy="259.7" r="1.75"/>
<circle cx="533.8" cy="243.4" r="1.75"/>
<circle cx="382.5" cy="248.8" r="1.75"/>
<circle cx="572.5" cy="281.3" r="1.75"/>
<circle cx="293.8" cy="227.2" r="1.75"/>
<circle cx="506.2" cy="270.5" r="1.75"/>
<circle cx="276.2" cy="243.4" r="1.75"/>
<circle cx="205.0" cy="270.5" r="1.75"/>
<circle cx="153.8" cy="270.5" r="1.75"/>
<circle cx="535.0" cy="259.7" r="1.75"/>
<circle cx="116.2" cy="254.2" r="1.75"/>
<circle cx="545.0" cy="254.2" r="1.75"/>
<circle cx="226.2" cy="243.4" r="1.75"/>
<circle cx="60.0" cy="281.3" r="1.75"/>
<circle cx="416.2" cy="259.7" r="1.75"/>
<circle cx="440.0" cy="259.7" r="1.75"/>
<circle cx="73.8" cy="292.1" r="1.75"/>
<circle cx="483.8" cy="259.7" r="1.75"/>
<circle cx="485.0" cy="243.4" r="1.75"/>
<circle cx="511.2" cy="254.2" r="1.75"/>
<circle cx="537.5" cy="248.8" r="1.75"/>
<circle cx="150.0" cy="265.1" r="1.75"/>
<circle cx="98.8" cy="238.0" r="1.75"/>
<circle cx="481.2" cy="243.4" r="1.75"/>
<circle cx="383.8" cy="232.6" r="1.75"/>
<circle cx="195.0" cy="270.5" r="1.75"/>
<circle cx="92.5" cy="254.2" r="1.75"/>
<circle cx="150.0" cy="248.8" r="1.75"/>
<circle cx="211.2" cy="248.8" r="1.75"/>
<circle cx="177.5" cy="254.2" r="1.75"/>
<circle cx="191.2" cy="254.2" r="1.75"/>
<circle cx="212.5" cy="259.7" r="1.75"/>
<circle cx="563.8" cy="286.7" r="1.75"/>
<circle cx="375.0" cy="243.4" r="1.75"/>
<circle cx="55.0" cy="308.4" r="1.75"/>
<circle cx="460.0" cy="232.6" r="1.75"/>
<circle cx="227.5" cy="254.2" r="1.75"/>
<circle cx="156.2" cy="281.3" r="1.75"/>
<circle cx="508.8" cy="227.2" r="1.75"/>
<circle cx="130.0" cy="243.4" r="1.75"/>
<circle cx="38.8" cy="308.4" r="1.75"/>
<circle cx="571.2" cy="232.6" r="1.75"/>
<circle cx="40.0" cy="335.4" r="1.75"/>
<circle cx="472.5" cy="248.8" r="1.75"/>
<circle cx="138.8" cy="275.9" r="1.75"/>
<circle cx="492.5" cy="248.8" r="1.75"/>
<circle cx="180.0" cy="243.4" r="1.75"/>
<circle cx="155.0" cy="270.5" r="1.75"/>
<circle cx="420.0" cy="254.2" r="1.75"/>
<circle cx="385.0" cy="243.4" r="1.75"/>
<circle cx="81.2" cy="270.5" r="1.75"/>
<circle cx="467.5" cy="270.5" r="1.75"/>
<circle cx="380.0" cy="254.2" r="1.75"/>
<circle cx="252.5" cy="232.6" r="1.75"/>
<circle cx="523.8" cy="227.2" r="1.75"/>
<circle cx="51.2" cy="275.9" r="1.75"/>
<circle cx="150.0" cy="265.1" r="1.75"/>
<circle cx="311.2" cy="205.5" r="1.75"/>
<circle cx="245.0" cy="243.4" r="1.75"/>
<circle cx="288.8" cy="248.8" r="1.75"/>
<circle cx="327.5" cy="243.4" r="1.75"/>
<circle cx="390.0" cy="265.1" r="1.75"/>
<circle cx="227.5" cy="254.2" r="1.75"/>
<circle cx="497.5" cy="238.0" r="1.75"/>
<circle cx="398.8" cy="243.4" r="1.75"/>
<circle cx="277.5" cy="248.8" r="1.75"/>
<circle cx="460.0" cy="248.8" r="1.75"/>
<circle cx="290.0" cy="243.4" r="1.75"/>
<circle cx="521.2" cy="254.2" r="1.75"/>
<circle cx="202.5" cy="238.0" r="1.75"/>
<circle cx="421.2" cy="238.0" r="1.75"/>
<circle cx="122.5" cy="270.5" r="1.75"/>
<circle cx="172.5" cy="270.5" r="1.75"/>
<circle cx="125.0" cy="243.4" r="1.75"/>
<circle cx="216.2" cy="227.2" r="1.75"/>
<circle cx="435.0" cy="200.1" r="1.75"/>
<circle cx="92.5" cy="270.5" r="1.75"/>
<circle cx="247.5" cy="248.8" r="1.75"/>
<circle cx="575.0" cy="248.8" r="1.75"/>
<circle cx="275.0" cy="265.1" r="1.75"/>
<circle cx="145.0" cy="265.1" r="1.75"/>
<circle cx="150.0" cy="270.5" r="1.75"/>
<circle cx="250.0" cy="232.6" r="1.75"/>
<circle cx="470.0" cy="243.4" r="1.75"/>
<circle cx="416.2" cy="270.5" r="1.75"/>
<circle cx="290.0" cy="243.4" r="1.75"/>
<circle cx="115.0" cy="275.9" r="1.75"/>
<circle cx="442.5" cy="248.8" r="1.75"/>
<circle cx="533.8" cy="275.9" r="1.75"/>
<circle cx="446.2" cy="232.6" r="1.75"/>
<circle cx="267.5" cy="238.0" r="1.75"/>
<circle cx="518.8" cy="232.6" r="1.75"/>
<circle cx="460.0" cy="248.8" r="1.75"/>
<circle cx="408.8" cy="275.9" r="1.75"/>
<circle cx="387.5" cy="254.2" r="1.75"/>
<circle cx="381.2" cy="238.0" r="1.75"/>
<circle cx="91.2" cy="308.4" r="1.75"/>
<circle cx="427.5" cy="232.6" r="1.75"/>
<circle cx="381.2" cy="243.4" r="1.75"/>
<circle cx="286.2" cy="221.8" r="1.75"/>
<circle cx="377.5" cy="265.1" r="1.75"/>
<circle cx="545.0" cy="238.0" r="1.75"/>
<circle cx="137.5" cy="275.9" r="1.75"/>
<circle cx="250.0" cy="270.5" r="1.75"/>
<circle cx="305.0" cy="238.0" r="1.75"/>
<circle cx="333.8" cy="248.8" r="1.75"/>
<circle cx="125.0" cy="254.2" r="1.75"/>
<circle cx="321.2" cy="281.3" r="1.75"/>
<circle cx="92.5" cy="297.5" r="1.75"/>
<circle cx="428.8" cy="254.2" r="1.75"/>
<circle cx="317.5" cy="259.7" r="1.75"/>
<circle cx="322.5" cy="265.1" r="1.75"/>
<circle cx="261.2" cy="238.0" r="1.75"/>
<circle cx="411.2" cy="248.8" r="1.75"/>
<circle cx="252.5" cy="248.8" r="1.75"/>
<circle cx="575.0" cy="265.1" r="1.75"/>
<circle cx="231.2" cy="238.0" r="1.75"/>
<circle cx="256.2" cy="243.4" r="1.75"/>
<circle cx="45.0" cy="324.6" r="1.75"/>
<circle cx="418.8" cy="238.0" r="1.75"/>
<circle cx="230.0" cy="248.8" r="1.75"/>
<circle cx="442.5" cy="227.2" r="1.75"/>
<circle cx="551.2" cy="265.1" r="1.75"/>
<circle cx="475.0" cy="248.8" r="1.75"/>
<circle cx="251.2" cy="248.8" r="1.75"/>
<circle cx="461.2" cy="232.6" r="1.75"/>
<circle cx="480.0" cy="259.7" r="1.75"/>
<circle cx="345.0" cy="265.1" r="1.75"/>
<circle cx="161.2" cy="248.8" r="1.75"/>
<circle cx="386.2" cy="243.4" r="1.75"/>
<circle cx="485.0" cy="243.4" r="1.75"/>
<circle cx="198.8" cy="265.1" r="1.75"/>
<circle cx="337.5" cy="227.2" r="1.75"/>
<circle cx="231.2" cy="227.2" r="1.75"/>
<circle cx="502.5" cy="248.8" r="1.75"/>
<circle cx="176.2" cy="243.4" r="1.75"/>
<circle cx="270.0" cy="243.4" r="1.75"/>
<circle cx="431.2" cy="243.4" r="1.75"/>
<circle cx="191.2" cy="248.8" r="1.75"/>
<circle cx="300.0" cy="227.2" r="1.75"/>
<circle cx="271.2" cy="259.7" r="1.75"/>
<circle cx="235.0" cy="265.1" r="1.75"/>
<circle cx="545.0" cy="248.8" r="1.75"/>
<circle cx="490.0" cy="254.2" r="1.75"/>
<circle cx="532.5" cy="254.2" r="1.75"/>
<circle cx="491.2" cy="254.2" r="1.75"/>
<circle cx="383.8" cy="238.0" r="1.75"/>
<circle cx="557.5" cy="254.2" r="1.75"/>
<circle cx="396.2" cy="243.4" r="1.75"/>
<circle cx="115.0" cy="254.2" r="1.75"/>
<circle cx="165.0" cy="259.7" r="1.75"/>
<circle cx="121.2" cy="275.9" r="1.75"/>
<circle cx="531.2" cy="254.2" r="1.75"/>
<circle cx="523.8" cy="265.1" r="1.75"/>
<circle cx="370.0" cy="238.0" r="1.75"/>
<circle cx="526.2" cy="281.3" r="1.75"/>
<circle cx="467.5" cy="238.0" r="1.75"/>
<circle cx="416.2" cy="254.2" r="1.75"/>
<circle cx="327.5" cy="248.8" r="1.75"/>
<circle cx="520.0" cy="275.9" r="1.75"/>
<circle cx="341.2" cy="248.8" r="1.75"/>
<circle cx="113.8" cy="254.2" r="1.75"/>
<circle cx="306.2" cy="221.8" r="1.75"/>
<circle cx="116.2" cy="254.2" r="1.75"/>
<circle cx="306.2" cy="259.7" r="1.75"/>
<circle cx="508.8" cy="248.8" r="1.75"/>
<circle cx="41.2" cy="303.0" r="1.75"/>
<circle cx="345.0" cy="265.1" r="1.75"/>
<circle cx="401.2" cy="232.6" r="1.75"/>
<circle cx="266.2" cy="259.7" r="1.75"/>
<circle cx="562.5" cy="238.0" r="1.75"/>
<circle cx="385.0" cy="232.6" r="1.75"/>
<circle cx="52.5" cy="319.2" r="1.75"/>
<circle cx="546.2" cy="270.5" r="1.75"/>
<circle cx="217.5" cy="227.2" r="1.75"/>
<circle cx="302.5" cy="243.4" r="1.75"/>
<circle cx="527.5" cy="232.6" r="1.75"/>
<circle cx="378.8" cy="238.0" r="1.75"/>
<circle cx="222.5" cy="238.0" r="1.75"/>
<circle cx="296.2" cy="254.2" r="1.75"/>
<circle cx="325.0" cy="243.4" r="1.75"/>
<circle cx="275.0" cy="254.2" r="1.75"/>
<circle cx="268.8" cy="270.5" r="1.75"/>
<circle cx="197.5" cy="259.7" r="1.75"/>
<circle cx="490.0" cy="265.1" r="1.75"/>
<circle cx="186.2" cy="243.4" r="1.75"/>
<circle cx="313.8" cy="216.3" r="1.75"/>
<circle cx="470.0" cy="248.8" r="1.75"/>
<circle cx="218.8" cy="254.2" r="1.75"/>
<circle cx="357.5" cy="232.6" r="1.75"/>
<circle cx="383.8" cy="238.0" r="1.75"/>
<circle cx="432.5" cy="248.8" r="1.75"/>
<circle cx="521.2" cy="259.7" r="1.75"/>
<circle cx="201.2" cy="248.8" r="1.75"/>
<circle cx="41.2" cy="297.5" r="1.75"/>
<circle cx="370.0" cy="210.9" r="1.75"/>
<circle cx="397.5" cy="232.6" r="1.75"/>
<circle cx="371.2" cy="275.9" r="1.75"/>
<circle cx="373.8" cy="259.7" r="1.75"/>
<circle cx="363.8" cy="259.7" r="1.75"/>
<circle cx="410.0" cy="238.0" r="1.75"/>
<circle cx="287.5" cy="216.3" r="1.75"/>
<circle cx="453.8" cy="232.6" r="1.75"/>
<circle cx="57.5" cy="281.3" r="1.75"/>
<circle cx="460.0" cy="221.8" r="1.75"/>
<circle cx="238.8" cy="259.7" r="1.75"/>
<circle cx="486.2" cy="243.4" r="1.75"/>
<circle cx="178.8" cy="275.9" r="1.75"/>
<circle cx="202.5" cy="259.7" r="1.75"/>
<circle cx="272.5" cy="232.6" r="1.75"/>
<circle cx="387.5" cy="238.0" r="1.75"/>
<circle cx="347.5" cy="248.8" r="1.75"/>
<circle cx="58.8" cy="259.7" r="1.75"/>
<circle cx="351.2" cy="227.2" r="1.75"/>
<circle cx="538.8" cy="259.7" r="1.75"/>
<circle cx="248.8" cy="248.8" r="1.75"/>
<circle cx="361.2" cy="200.1" r="1.75"/>
<circle cx="297.5" cy="259.7" r="1.75"/>
<circle cx="262.5" cy="227.2" r="1.75"/>
<circle cx="153.8" cy="248.8" r="1.75"/>
<circle cx="120.0" cy="259.7" r="1.75"/>
<circle cx="411.2" cy="243.4" r="1.75"/>
<circle cx="103.8" cy="265.1" r="1.75"/>
<circle cx="512.5" cy="254.2" r="1.75"/>
<circle cx="107.5" cy="238.0" r="1.75"/>
<circle cx="170.0" cy="259.7" r="1.75"/>
<circle cx="438.8" cy="238.0" r="1.75"/>
<circle cx="460.0" cy="238.0" r="1.75"/>
<circle cx="427.5" cy="227.2" r="1.75"/>
<circle cx="83.8" cy="303.0" r="1.75"/>
<circle cx="381.2" cy="243.4" r="1.75"/>
<circle cx="546.2" cy="270.5" r="1.75"/>
<circle cx="176.2" cy="232.6" r="1.75"/>
<circle cx="43.8" cy="319.2" r="1.75"/>
<circle cx="45.0" cy="330.0" r="1.75"/>
<circle cx="81.2" cy="303.0" r="1.75"/>
<circle cx="207.5" cy="248.8" r="1.75"/>
<circle cx="507.5" cy="259.7" r="1.75"/>
<circle cx="303.8" cy="227.2" r="1.75"/>
<circle cx="351.2" cy="243.4" r="1.75"/>
<circle cx="277.5" cy="243.4" r="1.75"/>
<circle cx="472.5" cy="254.2" r="1.75"/>
<circle cx="236.2" cy="265.1" r="1.75"/>
<circle cx="266.2" cy="259.7" r="1.75"/>
<circle cx="248.8" cy="238.0" r="1.75"/>
<circle cx="466.2" cy="281.3" r="1.75"/>
<circle cx="347.5" cy="248.8" r="1.75"/>
<circle cx="570.0" cy="254.2" r="1.75"/>
<circle cx="421.2" cy="238.0" r="1.75"/>
<circle cx="368.8" cy="254.2" r="1.75"/>
<circle cx="571.2" cy="248.8" r="1.75"/>
<circle cx="206.2" cy="265.1" r="1.75"/>
<circle cx="271.2" cy="232.6" r="1.75"/>
<circle cx="411.2" cy="254.2" r="1.75"/>
<circle cx="366.2" cy="221.8" r="1.75"/>
<circle cx="192.5" cy="270.5" r="1.75"/>
<circle cx="38.8" cy="319.2" r="1.75"/>
<circle cx="357.5" cy="227.2" r="1.75"/>
<circle cx="483.8" cy="243.4" r="1.75"/>
<circle cx="492.5" cy="248.8" r="1.75"/>
<circle cx="481.2" cy="232.6" r="1.75"/>
<circle cx="187.5" cy="265.1" r="1.75"/>
<circle cx="502.5" cy="238.0" r="1.75"/>
<circle cx="536.2" cy="275.9" r="1.75"/>
<circle cx="227.5" cy="232.6" r="1.75"/>
<circle cx="472.5" cy="238.0" r="1.75"/>
<circle cx="147.5" cy="265.1" r="1.75"/>
<circle cx="165.0" cy="303.0" r="1.75"/>
<circle cx="368.8" cy="248.8" r="1.75"/>
<circle cx="150.0" cy="281.3" r="1.75"/>
<circle cx="176.2" cy="259.7" r="1.75"/>
<circle cx="288.8" cy="270.5" r="1.75"/>
<circle cx="85.0" cy="265.1" r="1.75"/>
<circle cx="165.0" cy="286.7" r="1.75"/>
<circle cx="353.8" cy="221.8" r="1.75"/>
<circle cx="322.5" cy="265.1" r="1.75"/>
<circle cx="297.5" cy="248.8" r="1.75"/>
<circle cx="142.5" cy="265.1" r="1.75"/>
<circle cx="136.2" cy="265.1" r="1.75"/>
<circle cx="346.2" cy="265.1" r="1.75"/>
<circle cx="257.5" cy="254.2" r="1.75"/>
<circle cx="61.2" cy="281.3" r="1.75"/>
<circle cx="582.5" cy="265.1" r="1.75"/>
<circle cx="383.8" cy="238.0" r="1.75"/>
<circle cx="467.5" cy="232.6" r="1.75"/>
<circle cx="226.2" cy="232.6" r="1.75"/>
<circle cx="321.2" cy="238.0" r="1.75"/>
<circle cx="578.8" cy="254.2" r="1.75"/>
<circle cx="510.0" cy="270.5" r="1.75"/>
<circle cx="180.0" cy="254.2" r="1.75"/>
<circle cx="463.8" cy="275.9" r="1.75"/>
<circle cx="456.2" cy="221.8" r="1.75"/>
<circle cx="485.0" cy="238.0" r="1.75"/>
<circle cx="58.8" cy="286.7" r="1.75"/>
<circle cx="147.5" cy="259.7" r="1.75"/>
<circle cx="65.0" cy="270.5" r="1.75"/>
<circle cx="342.5" cy="238.0" r="1.75"/>
<circle cx="555.0" cy="270.5" r="1.75"/>
<circle cx="535.0" cy="232.6" r="1.75"/>
<circle cx="255.0" cy="238.0" r="1.75"/>
<circle cx="118.0" cy="189.0" r="1.75"/>
<circle cx="127.0" cy="193.0" r="1.75"/>
<circle cx="137.0" cy="197.0" r="1.75"/>
<circle cx="146.0" cy="192.0" r="1.75"/>
<circle cx="155.0" cy="178.0" r="1.75"/>
<circle cx="181.0" cy="161.0" r="1.75"/>
<circle cx="190.0" cy="166.0" r="1.75"/>
<circle cx="219.0" cy="135.0" r="1.75"/>
<circle cx="230.0" cy="172.0" r="1.75"/>
<circle cx="238.0" cy="172.0" r="1.75"/>
<circle cx="249.0" cy="188.0" r="1.75"/>
<circle cx="259.0" cy="188.0" r="1.75"/>
<circle cx="268.0" cy="178.0" r="1.75"/>
<circle cx="286.0" cy="183.0" r="1.75"/>
<circle cx="303.0" cy="178.0" r="1.75"/>
<circle cx="313.0" cy="199.0" r="1.75"/>
<circle cx="345.0" cy="193.0" r="1.75"/>
<circle cx="354.0" cy="183.0" r="1.75"/>
<circle cx="372.0" cy="188.0" r="1.75"/>
<circle cx="380.0" cy="199.0" r="1.75"/>
<circle cx="437.0" cy="161.0" r="1.75"/>
<circle cx="441.0" cy="184.0" r="1.75"/>
<circle cx="461.0" cy="161.0" r="1.75"/>
<circle cx="516.0" cy="199.0" r="1.75"/>
<circle cx="211.5" cy="199.0" r="1.75"/>
<circle cx="110.0" cy="205.0" r="1.75"/>
<circle cx="103.0" cy="215.0" r="1.75"/>
</g>
<g fill="#2ca25f" fill-opacity="0.44">
<circle cx="48.8" cy="281.3" r="1.75"/>
<circle cx="81.2" cy="303.0" r="1.75"/>
<circle cx="86.2" cy="275.9" r="1.75"/>
<circle cx="68.8" cy="308.4" r="1.75"/>
<circle cx="72.5" cy="275.9" r="1.75"/>
<circle cx="112.5" cy="275.9" r="1.75"/>
<circle cx="56.2" cy="286.7" r="1.75"/>
<circle cx="65.0" cy="297.5" r="1.75"/>
<circle cx="105.0" cy="275.9" r="1.75"/>
<circle cx="43.8" cy="313.8" r="1.75"/>
<circle cx="97.5" cy="308.4" r="1.75"/>
<circle cx="111.2" cy="335.4" r="1.75"/>
<circle cx="43.8" cy="275.9" r="1.75"/>
<circle cx="107.5" cy="281.3" r="1.75"/>
<circle cx="88.8" cy="308.4" r="1.75"/>
<circle cx="95.0" cy="275.9" r="1.75"/>
<circle cx="47.5" cy="303.0" r="1.75"/>
<circle cx="48.8" cy="281.3" r="1.75"/>
<circle cx="75.0" cy="297.5" r="1.75"/>
<circle cx="50.0" cy="286.7" r="1.75"/>
<circle cx="88.8" cy="270.5" r="1.75"/>
<circle cx="53.8" cy="297.5" r="1.75"/>
<circle cx="42.5" cy="281.3" r="1.75"/>
<circle cx="107.5" cy="313.8" r="1.75"/>
<circle cx="102.5" cy="297.5" r="1.75"/>
<circle cx="72.5" cy="308.4" r="1.75"/>
<circle cx="47.5" cy="265.1" r="1.75"/>
<circle cx="85.0" cy="319.2" r="1.75"/>
<circle cx="72.5" cy="319.2" r="1.75"/>
<circle cx="75.0" cy="270.5" r="1.75"/>
<circle cx="85.0" cy="292.1" r="1.75"/>
<circle cx="43.8" cy="286.7" r="1.75"/>
<circle cx="91.2" cy="308.4" r="1.75"/>
<circle cx="103.8" cy="308.4" r="1.75"/>
<circle cx="58.8" cy="308.4" r="1.75"/>
<circle cx="60.0" cy="292.1" r="1.75"/>
<circle cx="101.2" cy="308.4" r="1.75"/>
<circle cx="75.0" cy="292.1" r="1.75"/>
<circle cx="62.5" cy="292.1" r="1.75"/>
<circle cx="111.2" cy="313.8" r="1.75"/>
<circle cx="43.8" cy="275.9" r="1.75"/>
<circle cx="55.0" cy="313.8" r="1.75"/>
<circle cx="75.0" cy="303.0" r="1.75"/>
<circle cx="55.0" cy="286.7" r="1.75"/>
<circle cx="66.2" cy="232.6" r="1.75"/>
<circle cx="107.5" cy="308.4" r="1.75"/>
<circle cx="47.5" cy="308.4" r="1.75"/>
<circle cx="43.8" cy="259.7" r="1.75"/>
<circle cx="92.5" cy="313.8" r="1.75"/>
<circle cx="41.2" cy="243.4" r="1.75"/>
<circle cx="478.8" cy="330.0" r="1.75"/>
<circle cx="38.8" cy="286.7" r="1.75"/>
<circle cx="492.5" cy="335.4" r="1.75"/>
<circle cx="275.0" cy="335.4" r="1.75"/>
<circle cx="536.2" cy="313.8" r="1.75"/>
<circle cx="112.5" cy="292.1" r="1.75"/>
<circle cx="136.2" cy="313.8" r="1.75"/>
<circle cx="145.0" cy="335.4" r="1.75"/>
<circle cx="81.2" cy="281.3" r="1.75"/>
<circle cx="308.8" cy="324.6" r="1.75"/>
<circle cx="187.5" cy="319.2" r="1.75"/>
<circle cx="423.8" cy="308.4" r="1.75"/>
<circle cx="481.2" cy="335.4" r="1.75"/>
<circle cx="73.8" cy="308.4" r="1.75"/>
<circle cx="437.5" cy="357.1" r="1.75"/>
<circle cx="67.5" cy="286.7" r="1.75"/>
<circle cx="480.0" cy="340.8" r="1.75"/>
<circle cx="510.0" cy="292.1" r="1.75"/>
<circle cx="306.2" cy="303.0" r="1.75"/>
<circle cx="297.5" cy="335.4" r="1.75"/>
<circle cx="513.8" cy="319.2" r="1.75"/>
<circle cx="491.2" cy="313.8" r="1.75"/>
<circle cx="237.5" cy="319.2" r="1.75"/>
<circle cx="362.5" cy="319.2" r="1.75"/>
<circle cx="40.0" cy="313.8" r="1.75"/>
<circle cx="318.8" cy="335.4" r="1.75"/>
<circle cx="103.8" cy="313.8" r="1.75"/>
<circle cx="510.0" cy="351.7" r="1.75"/>
<circle cx="212.5" cy="335.4" r="1.75"/>
<circle cx="447.5" cy="351.7" r="1.75"/>
<circle cx="71.2" cy="270.5" r="1.75"/>
<circle cx="307.5" cy="362.5" r="1.75"/>
<circle cx="317.5" cy="351.7" r="1.75"/>
<circle cx="48.8" cy="303.0" r="1.75"/>
<circle cx="566.2" cy="319.2" r="1.75"/>
<circle cx="93.8" cy="286.7" r="1.75"/>
<circle cx="173.8" cy="313.8" r="1.75"/>
<circle cx="90.0" cy="303.0" r="1.75"/>
<circle cx="418.8" cy="330.0" r="1.75"/>
<circle cx="365.0" cy="330.0" r="1.75"/>
<circle cx="352.5" cy="351.7" r="1.75"/>
<circle cx="93.8" cy="303.0" r="1.75"/>
<circle cx="512.5" cy="319.2" r="1.75"/>
<circle cx="105.0" cy="308.4" r="1.75"/>
<circle cx="307.5" cy="351.7" r="1.75"/>
<circle cx="103.8" cy="303.0" r="1.75"/>
<circle cx="258.8" cy="313.8" r="1.75"/>
<circle cx="507.5" cy="308.4" r="1.75"/>
<circle cx="117.5" cy="335.4" r="1.75"/>
<circle cx="127.5" cy="330.0" r="1.75"/>
<circle cx="488.8" cy="313.8" r="1.75"/>
<circle cx="267.5" cy="335.4" r="1.75"/>
<circle cx="496.2" cy="340.8" r="1.75"/>
<circle cx="551.2" cy="319.2" r="1.75"/>
<circle cx="462.5" cy="340.8" r="1.75"/>
<circle cx="220.0" cy="319.2" r="1.75"/>
<circle cx="275.0" cy="303.0" r="1.75"/>
<circle cx="536.2" cy="324.6" r="1.75"/>
<circle cx="482.5" cy="324.6" r="1.75"/>
<circle cx="320.0" cy="335.4" r="1.75"/>
<circle cx="561.2" cy="308.4" r="1.75"/>
<circle cx="267.5" cy="335.4" r="1.75"/>
<circle cx="382.5" cy="346.3" r="1.75"/>
<circle cx="75.0" cy="286.7" r="1.75"/>
<circle cx="273.8" cy="335.4" r="1.75"/>
<circle cx="113.8" cy="313.8" r="1.75"/>
<circle cx="567.5" cy="313.8" r="1.75"/>
<circle cx="383.8" cy="373.3" r="1.75"/>
<circle cx="480.0" cy="303.0" r="1.75"/>
<circle cx="56.2" cy="324.6" r="1.75"/>
<circle cx="387.5" cy="335.4" r="1.75"/>
<circle cx="186.2" cy="297.5" r="1.75"/>
<circle cx="333.8" cy="308.4" r="1.75"/>
<circle cx="175.0" cy="330.0" r="1.75"/>
<circle cx="321.2" cy="367.9" r="1.75"/>
<circle cx="195.0" cy="308.4" r="1.75"/>
<circle cx="203.8" cy="335.4" r="1.75"/>
<circle cx="362.5" cy="335.4" r="1.75"/>
<circle cx="560.0" cy="330.0" r="1.75"/>
<circle cx="292.5" cy="340.8" r="1.75"/>
<circle cx="328.8" cy="324.6" r="1.75"/>
<circle cx="108.8" cy="297.5" r="1.75"/>
<circle cx="197.5" cy="340.8" r="1.75"/>
<circle cx="170.0" cy="308.4" r="1.75"/>
<circle cx="85.0" cy="335.4" r="1.75"/>
<circle cx="371.2" cy="340.8" r="1.75"/>
<circle cx="348.8" cy="335.4" r="1.75"/>
<circle cx="425.0" cy="340.8" r="1.75"/>
<circle cx="288.8" cy="357.1" r="1.75"/>
<circle cx="293.8" cy="346.3" r="1.75"/>
<circle cx="207.5" cy="330.0" r="1.75"/>
<circle cx="317.5" cy="324.6" r="1.75"/>
<circle cx="246.2" cy="330.0" r="1.75"/>
<circle cx="230.0" cy="330.0" r="1.75"/>
<circle cx="508.8" cy="319.2" r="1.75"/>
<circle cx="306.2" cy="313.8" r="1.75"/>
<circle cx="192.5" cy="313.8" r="1.75"/>
<circle cx="458.8" cy="335.4" r="1.75"/>
<circle cx="123.8" cy="286.7" r="1.75"/>
<circle cx="277.5" cy="319.2" r="1.75"/>
<circle cx="71.2" cy="319.2" r="1.75"/>
<circle cx="438.8" cy="324.6" r="1.75"/>
<circle cx="97.5" cy="292.1" r="1.75"/>
<circle cx="441.2" cy="297.5" r="1.75"/>
<circle cx="122.5" cy="324.6" r="1.75"/>
<circle cx="406.2" cy="319.2" r="1.75"/>
<circle cx="373.8" cy="313.8" r="1.75"/>
<circle cx="320.0" cy="357.1" r="1.75"/>
<circle cx="441.2" cy="335.4" r="1.75"/>
<circle cx="297.5" cy="362.5" r="1.75"/>
<circle cx="466.2" cy="340.8" r="1.75"/>
<circle cx="107.5" cy="346.3" r="1.75"/>
<circle cx="513.8" cy="292.1" r="1.75"/>
<circle cx="357.5" cy="330.0" r="1.75"/>
<circle cx="310.0" cy="313.8" r="1.75"/>
<circle cx="266.2" cy="335.4" r="1.75"/>
<circle cx="465.0" cy="319.2" r="1.75"/>
<circle cx="245.0" cy="340.8" r="1.75"/>
<circle cx="285.0" cy="362.5" r="1.75"/>
<circle cx="197.5" cy="319.2" r="1.75"/>
<circle cx="251.2" cy="340.8" r="1.75"/>
<circle cx="213.8" cy="335.4" r="1.75"/>
<circle cx="467.5" cy="319.2" r="1.75"/>
<circle cx="280.0" cy="351.7" r="1.75"/>
<circle cx="138.8" cy="319.2" r="1.75"/>
<circle cx="351.2" cy="319.2" r="1.75"/>
<circle cx="355.0" cy="297.5" r="1.75"/>
<circle cx="215.0" cy="308.4" r="1.75"/>
<circle cx="498.8" cy="303.0" r="1.75"/>
<circle cx="148.8" cy="346.3" r="1.75"/>
<circle cx="270.0" cy="330.0" r="1.75"/>
<circle cx="63.8" cy="303.0" r="1.75"/>
<circle cx="346.2" cy="362.5" r="1.75"/>
<circle cx="460.0" cy="335.4" r="1.75"/>
<circle cx="331.2" cy="308.4" r="1.75"/>
<circle cx="320.0" cy="330.0" r="1.75"/>
<circle cx="411.2" cy="340.8" r="1.75"/>
<circle cx="362.5" cy="319.2" r="1.75"/>
<circle cx="228.8" cy="303.0" r="1.75"/>
<circle cx="325.0" cy="335.4" r="1.75"/>
<circle cx="91.2" cy="313.8" r="1.75"/>
<circle cx="343.8" cy="313.8" r="1.75"/>
<circle cx="351.2" cy="297.5" r="1.75"/>
<circle cx="303.8" cy="362.5" r="1.75"/>
<circle cx="277.5" cy="373.3" r="1.75"/>
<circle cx="225.0" cy="362.5" r="1.75"/>
<circle cx="327.5" cy="324.6" r="1.75"/>
<circle cx="211.2" cy="340.8" r="1.75"/>
<circle cx="572.5" cy="308.4" r="1.75"/>
<circle cx="97.5" cy="319.2" r="1.75"/>
<circle cx="526.2" cy="330.0" r="1.75"/>
<circle cx="578.8" cy="346.3" r="1.75"/>
<circle cx="522.5" cy="324.6" r="1.75"/>
<circle cx="196.2" cy="324.6" r="1.75"/>
<circle cx="317.5" cy="346.3" r="1.75"/>
<circle cx="137.5" cy="313.8" r="1.75"/>
<circle cx="381.2" cy="346.3" r="1.75"/>
<circle cx="580.0" cy="330.0" r="1.75"/>
<circle cx="385.0" cy="319.2" r="1.75"/>
<circle cx="467.5" cy="330.0" r="1.75"/>
<circle cx="205.0" cy="330.0" r="1.75"/>
<circle cx="203.8" cy="330.0" r="1.75"/>
<circle cx="497.5" cy="346.3" r="1.75"/>
<circle cx="145.0" cy="324.6" r="1.75"/>
<circle cx="310.0" cy="346.3" r="1.75"/>
<circle cx="391.2" cy="340.8" r="1.75"/>
<circle cx="327.5" cy="308.4" r="1.75"/>
<circle cx="262.5" cy="330.0" r="1.75"/>
<circle cx="103.8" cy="286.7" r="1.75"/>
<circle cx="96.2" cy="275.9" r="1.75"/>
<circle cx="92.5" cy="292.1" r="1.75"/>
<circle cx="487.5" cy="308.4" r="1.75"/>
<circle cx="372.5" cy="330.0" r="1.75"/>
<circle cx="43.8" cy="303.0" r="1.75"/>
<circle cx="458.8" cy="346.3" r="1.75"/>
<circle cx="231.2" cy="303.0" r="1.75"/>
<circle cx="130.0" cy="319.2" r="1.75"/>
<circle cx="531.2" cy="308.4" r="1.75"/>
<circle cx="355.0" cy="340.8" r="1.75"/>
<circle cx="248.8" cy="313.8" r="1.75"/>
<circle cx="67.5" cy="281.3" r="1.75"/>
<circle cx="561.2" cy="330.0" r="1.75"/>
<circle cx="277.5" cy="346.3" r="1.75"/>
<circle cx="61.2" cy="308.4" r="1.75"/>
<circle cx="546.2" cy="313.8" r="1.75"/>
<circle cx="528.8" cy="330.0" r="1.75"/>
<circle cx="483.8" cy="335.4" r="1.75"/>
<circle cx="562.5" cy="297.5" r="1.75"/>
<circle cx="308.8" cy="324.6" r="1.75"/>
<circle cx="250.0" cy="330.0" r="1.75"/>
<circle cx="430.0" cy="330.0" r="1.75"/>
<circle cx="516.2" cy="303.0" r="1.75"/>
<circle cx="302.5" cy="335.4" r="1.75"/>
<circle cx="132.5" cy="330.0" r="1.75"/>
<circle cx="233.8" cy="308.4" r="1.75"/>
<circle cx="196.2" cy="286.7" r="1.75"/>
<circle cx="343.8" cy="313.8" r="1.75"/>
<circle cx="248.8" cy="313.8" r="1.75"/>
<circle cx="257.5" cy="319.2" r="1.75"/>
<circle cx="488.8" cy="324.6" r="1.75"/>
<circle cx="228.8" cy="324.6" r="1.75"/>
<circle cx="192.5" cy="313.8" r="1.75"/>
<circle cx="167.5" cy="292.1" r="1.75"/>
<circle cx="223.8" cy="324.6" r="1.75"/>
<circle cx="122.5" cy="319.2" r="1.75"/>
<circle cx="185.0" cy="330.0" r="1.75"/>
<circle cx="493.8" cy="313.8" r="1.75"/>
<circle cx="493.8" cy="313.8" r="1.75"/>
<circle cx="477.5" cy="319.2" r="1.75"/>
<circle cx="432.5" cy="319.2" r="1.75"/>
<circle cx="243.8" cy="313.8" r="1.75"/>
<circle cx="557.5" cy="319.2" r="1.75"/>
<circle cx="313.8" cy="330.0" r="1.75"/>
<circle cx="108.8" cy="286.7" r="1.75"/>
<circle cx="423.8" cy="335.4" r="1.75"/>
<circle cx="358.8" cy="297.5" r="1.75"/>
<circle cx="238.8" cy="324.6" r="1.75"/>
<circle cx="153.8" cy="286.7" r="1.75"/>
<circle cx="513.8" cy="303.0" r="1.75"/>
<circle cx="333.8" cy="313.8" r="1.75"/>
<circle cx="185.0" cy="319.2" r="1.75"/>
<circle cx="396.2" cy="351.7" r="1.75"/>
<circle cx="347.5" cy="335.4" r="1.75"/>
<circle cx="85.0" cy="281.3" r="1.75"/>
<circle cx="133.8" cy="308.4" r="1.75"/>
<circle cx="400.0" cy="346.3" r="1.75"/>
<circle cx="97.5" cy="319.2" r="1.75"/>
<circle cx="311.2" cy="340.8" r="1.75"/>
<circle cx="200.0" cy="313.8" r="1.75"/>
<circle cx="161.2" cy="303.0" r="1.75"/>
<circle cx="106.2" cy="308.4" r="1.75"/>
<circle cx="257.5" cy="340.8" r="1.75"/>
<circle cx="533.8" cy="313.8" r="1.75"/>
<circle cx="507.5" cy="357.1" r="1.75"/>
<circle cx="110.0" cy="308.4" r="1.75"/>
<circle cx="408.8" cy="330.0" r="1.75"/>
<circle cx="400.0" cy="340.8" r="1.75"/>
<circle cx="397.5" cy="319.2" r="1.75"/>
<circle cx="420.0" cy="330.0" r="1.75"/>
<circle cx="230.0" cy="297.5" r="1.75"/>
<circle cx="381.2" cy="330.0" r="1.75"/>
<circle cx="536.2" cy="313.8" r="1.75"/>
<circle cx="438.8" cy="335.4" r="1.75"/>
<circle cx="58.8" cy="303.0" r="1.75"/>
<circle cx="126.2" cy="313.8" r="1.75"/>
<circle cx="245.0" cy="313.8" r="1.75"/>
<circle cx="58.8" cy="308.4" r="1.75"/>
<circle cx="136.2" cy="292.1" r="1.75"/>
<circle cx="496.2" cy="346.3" r="1.75"/>
<circle cx="176.2" cy="330.0" r="1.75"/>
<circle cx="275.0" cy="340.8" r="1.75"/>
<circle cx="37.5" cy="308.4" r="1.75"/>
<circle cx="493.8" cy="324.6" r="1.75"/>
<circle cx="61.2" cy="313.8" r="1.75"/>
<circle cx="503.8" cy="330.0" r="1.75"/>
<circle cx="171.2" cy="319.2" r="1.75"/>
<circle cx="98.8" cy="297.5" r="1.75"/>
<circle cx="537.5" cy="330.0" r="1.75"/>
<circle cx="447.5" cy="313.8" r="1.75"/>
<circle cx="252.5" cy="313.8" r="1.75"/>
<circle cx="446.2" cy="330.0" r="1.75"/>
<circle cx="86.2" cy="313.8" r="1.75"/>
<circle cx="555.0" cy="351.7" r="1.75"/>
<circle cx="415.0" cy="313.8" r="1.75"/>
<circle cx="441.2" cy="324.6" r="1.75"/>
<circle cx="285.0" cy="357.1" r="1.75"/>
<circle cx="67.5" cy="308.4" r="1.75"/>
<circle cx="317.5" cy="351.7" r="1.75"/>
<circle cx="545.0" cy="303.0" r="1.75"/>
<circle cx="61.2" cy="275.9" r="1.75"/>
<circle cx="421.2" cy="324.6" r="1.75"/>
<circle cx="336.2" cy="340.8" r="1.75"/>
<circle cx="567.5" cy="330.0" r="1.75"/>
<circle cx="173.8" cy="335.4" r="1.75"/>
<circle cx="70.0" cy="313.8" r="1.75"/>
<circle cx="147.5" cy="297.5" r="1.75"/>
<circle cx="207.5" cy="313.8" r="1.75"/>
<circle cx="403.8" cy="313.8" r="1.75"/>
<circle cx="167.5" cy="313.8" r="1.75"/>
<circle cx="280.0" cy="313.8" r="1.75"/>
<circle cx="548.8" cy="330.0" r="1.75"/>
<circle cx="521.2" cy="308.4" r="1.75"/>
<circle cx="115.0" cy="324.6" r="1.75"/>
<circle cx="482.5" cy="330.0" r="1.75"/>
<circle cx="337.5" cy="324.6" r="1.75"/>
<circle cx="401.2" cy="340.8" r="1.75"/>
<circle cx="365.0" cy="357.1" r="1.75"/>
<circle cx="491.2" cy="319.2" r="1.75"/>
<circle cx="100.0" cy="308.4" r="1.75"/>
<circle cx="150.0" cy="297.5" r="1.75"/>
<circle cx="70.0" cy="303.0" r="1.75"/>
<circle cx="421.2" cy="319.2" r="1.75"/>
<circle cx="282.5" cy="324.6" r="1.75"/>
<circle cx="293.8" cy="330.0" r="1.75"/>
<circle cx="236.2" cy="324.6" r="1.75"/>
<circle cx="43.8" cy="292.1" r="1.75"/>
<circle cx="580.0" cy="319.2" r="1.75"/>
<circle cx="428.8" cy="340.8" r="1.75"/>
<circle cx="572.5" cy="324.6" r="1.75"/>
<circle cx="305.0" cy="340.8" r="1.75"/>
<circle cx="275.0" cy="324.6" r="1.75"/>
<circle cx="42.5" cy="275.9" r="1.75"/>
<circle cx="540.0" cy="335.4" r="1.75"/>
<circle cx="548.8" cy="335.4" r="1.75"/>
<circle cx="393.8" cy="335.4" r="1.75"/>
<circle cx="113.8" cy="297.5" r="1.75"/>
<circle cx="52.5" cy="292.1" r="1.75"/>
<circle cx="198.8" cy="357.1" r="1.75"/>
<circle cx="138.8" cy="335.4" r="1.75"/>
<circle cx="543.8" cy="340.8" r="1.75"/>
<circle cx="130.0" cy="308.4" r="1.75"/>
<circle cx="442.5" cy="367.9" r="1.75"/>
<circle cx="216.2" cy="319.2" r="1.75"/>
<circle cx="212.5" cy="303.0" r="1.75"/>
<circle cx="238.8" cy="340.8" r="1.75"/>
<circle cx="491.2" cy="330.0" r="1.75"/>
<circle cx="168.8" cy="292.1" r="1.75"/>
<circle cx="381.2" cy="330.0" r="1.75"/>
<circle cx="485.0" cy="335.4" r="1.75"/>
<circle cx="553.8" cy="351.7" r="1.75"/>
<circle cx="307.5" cy="346.3" r="1.75"/>
<circle cx="201.2" cy="330.0" r="1.75"/>
<circle cx="355.0" cy="308.4" r="1.75"/>
<circle cx="127.5" cy="303.0" r="1.75"/>
<circle cx="280.0" cy="330.0" r="1.75"/>
<circle cx="58.8" cy="297.5" r="1.75"/>
<circle cx="277.5" cy="324.6" r="1.75"/>
<circle cx="38.8" cy="265.1" r="1.75"/>
<circle cx="496.2" cy="308.4" r="1.75"/>
<circle cx="270.0" cy="357.1" r="1.75"/>
<circle cx="192.5" cy="335.4" r="1.75"/>
<circle cx="267.5" cy="346.3" r="1.75"/>
<circle cx="222.5" cy="351.7" r="1.75"/>
<circle cx="488.8" cy="319.2" r="1.75"/>
<circle cx="531.2" cy="313.8" r="1.75"/>
<circle cx="280.0" cy="324.6" r="1.75"/>
<circle cx="345.0" cy="330.0" r="1.75"/>
<circle cx="83.8" cy="292.1" r="1.75"/>
<circle cx="213.8" cy="373.3" r="1.75"/>
<circle cx="533.8" cy="308.4" r="1.75"/>
<circle cx="510.0" cy="281.3" r="1.75"/>
<circle cx="376.2" cy="340.8" r="1.75"/>
<circle cx="480.0" cy="303.0" r="1.75"/>
<circle cx="370.0" cy="324.6" r="1.75"/>
<circle cx="200.0" cy="362.5" r="1.75"/>
<circle cx="300.0" cy="351.7" r="1.75"/>
<circle cx="391.2" cy="340.8" r="1.75"/>
<circle cx="521.2" cy="303.0" r="1.75"/>
<circle cx="52.5" cy="286.7" r="1.75"/>
<circle cx="281.2" cy="313.8" r="1.75"/>
<circle cx="83.8" cy="308.4" r="1.75"/>
<circle cx="355.0" cy="340.8" r="1.75"/>
<circle cx="265.0" cy="351.7" r="1.75"/>
<circle cx="253.8" cy="330.0" r="1.75"/>
<circle cx="100.0" cy="286.7" r="1.75"/>
<circle cx="337.5" cy="297.5" r="1.75"/>
<circle cx="98.8" cy="292.1" r="1.75"/>
<circle cx="88.8" cy="313.8" r="1.75"/>
<circle cx="327.5" cy="330.0" r="1.75"/>
<circle cx="340.0" cy="308.4" r="1.75"/>
<circle cx="161.2" cy="319.2" r="1.75"/>
<circle cx="317.5" cy="335.4" r="1.75"/>
<circle cx="358.8" cy="313.8" r="1.75"/>
<circle cx="77.5" cy="292.1" r="1.75"/>
<circle cx="277.5" cy="319.2" r="1.75"/>
<circle cx="427.5" cy="346.3" r="1.75"/>
<circle cx="451.2" cy="297.5" r="1.75"/>
<circle cx="431.2" cy="297.5" r="1.75"/>
<circle cx="93.8" cy="292.1" r="1.75"/>
<circle cx="131.2" cy="330.0" r="1.75"/>
<circle cx="562.5" cy="346.3" r="1.75"/>
<circle cx="112.5" cy="319.2" r="1.75"/>
<circle cx="461.2" cy="324.6" r="1.75"/>
<circle cx="241.2" cy="324.6" r="1.75"/>
<circle cx="46.2" cy="308.4" r="1.75"/>
<circle cx="201.2" cy="335.4" r="1.75"/>
<circle cx="423.8" cy="362.5" r="1.75"/>
<circle cx="376.2" cy="319.2" r="1.75"/>
<circle cx="513.8" cy="351.7" r="1.75"/>
<circle cx="513.8" cy="335.4" r="1.75"/>
<circle cx="128.8" cy="319.2" r="1.75"/>
<circle cx="455.0" cy="351.7" r="1.75"/>
<circle cx="408.8" cy="330.0" r="1.75"/>
<circle cx="241.2" cy="335.4" r="1.75"/>
<circle cx="440.0" cy="308.4" r="1.75"/>
<circle cx="61.2" cy="308.4" r="1.75"/>
<circle cx="367.5" cy="313.8" r="1.75"/>
<circle cx="476.2" cy="313.8" r="1.75"/>
<circle cx="98.8" cy="275.9" r="1.75"/>
<circle cx="176.2" cy="330.0" r="1.75"/>
<circle cx="142.5" cy="340.8" r="1.75"/>
<circle cx="355.0" cy="319.2" r="1.75"/>
<circle cx="100.0" cy="292.1" r="1.75"/>
<circle cx="475.0" cy="330.0" r="1.75"/>
<circle cx="138.8" cy="330.0" r="1.75"/>
<circle cx="412.5" cy="335.4" r="1.75"/>
<circle cx="245.0" cy="308.4" r="1.75"/>
<circle cx="331.2" cy="303.0" r="1.75"/>
<circle cx="413.8" cy="319.2" r="1.75"/>
<circle cx="45.0" cy="335.4" r="1.75"/>
<circle cx="225.0" cy="313.8" r="1.75"/>
<circle cx="515.0" cy="303.0" r="1.75"/>
<circle cx="475.0" cy="319.2" r="1.75"/>
<circle cx="485.0" cy="324.6" r="1.75"/>
<circle cx="408.8" cy="346.3" r="1.75"/>
<circle cx="123.8" cy="303.0" r="1.75"/>
<circle cx="498.8" cy="351.7" r="1.75"/>
<circle cx="371.2" cy="313.8" r="1.75"/>
<circle cx="78.8" cy="308.4" r="1.75"/>
<circle cx="526.2" cy="308.4" r="1.75"/>
<circle cx="358.8" cy="319.2" r="1.75"/>
<circle cx="235.0" cy="324.6" r="1.75"/>
<circle cx="292.5" cy="351.7" r="1.75"/>
<circle cx="231.2" cy="335.4" r="1.75"/>
<circle cx="41.2" cy="308.4" r="1.75"/>
<circle cx="48.8" cy="303.0" r="1.75"/>
<circle cx="288.8" cy="330.0" r="1.75"/>
<circle cx="117.5" cy="313.8" r="1.75"/>
<circle cx="403.8" cy="335.4" r="1.75"/>
<circle cx="311.2" cy="324.6" r="1.75"/>
<circle cx="181.2" cy="340.8" r="1.75"/>
<circle cx="560.0" cy="324.6" r="1.75"/>
<circle cx="580.0" cy="297.5" r="1.75"/>
<circle cx="458.8" cy="330.0" r="1.75"/>
<circle cx="513.8" cy="313.8" r="1.75"/>
<circle cx="383.8" cy="357.1" r="1.75"/>
<circle cx="236.2" cy="330.0" r="1.75"/>
<circle cx="513.8" cy="292.1" r="1.75"/>
<circle cx="550.0" cy="324.6" r="1.75"/>
<circle cx="455.0" cy="346.3" r="1.75"/>
<circle cx="441.2" cy="357.1" r="1.75"/>
<circle cx="228.8" cy="330.0" r="1.75"/>
<circle cx="338.8" cy="330.0" r="1.75"/>
<circle cx="221.2" cy="324.6" r="1.75"/>
<circle cx="213.8" cy="308.4" r="1.75"/>
<circle cx="238.8" cy="330.0" r="1.75"/>
<circle cx="170.0" cy="313.8" r="1.75"/>
<circle cx="111.2" cy="292.1" r="1.75"/>
<circle cx="41.2" cy="281.3" r="1.75"/>
<circle cx="281.2" cy="346.3" r="1.75"/>
<circle cx="348.8" cy="330.0" r="1.75"/>
<circle cx="73.8" cy="292.1" r="1.75"/>
<circle cx="202.5" cy="335.4" r="1.75"/>
<circle cx="338.8" cy="303.0" r="1.75"/>
<circle cx="550.0" cy="340.8" r="1.75"/>
<circle cx="356.2" cy="297.5" r="1.75"/>
<circle cx="81.2" cy="292.1" r="1.75"/>
<circle cx="577.5" cy="297.5" r="1.75"/>
<circle cx="232.5" cy="324.6" r="1.75"/>
<circle cx="511.2" cy="335.4" r="1.75"/>
<circle cx="75.0" cy="340.8" r="1.75"/>
<circle cx="188.8" cy="324.6" r="1.75"/>
<circle cx="178.8" cy="308.4" r="1.75"/>
<circle cx="183.8" cy="324.6" r="1.75"/>
<circle cx="422.5" cy="330.0" r="1.75"/>
<circle cx="147.5" cy="297.5" r="1.75"/>
<circle cx="366.2" cy="313.8" r="1.75"/>
<circle cx="145.0" cy="330.0" r="1.75"/>
<circle cx="438.8" cy="313.8" r="1.75"/>
<circle cx="81.2" cy="308.4" r="1.75"/>
<circle cx="480.0" cy="313.8" r="1.75"/>
<circle cx="112.5" cy="319.2" r="1.75"/>
<circle cx="140.0" cy="346.3" r="1.75"/>
<circle cx="387.5" cy="340.8" r="1.75"/>
<circle cx="541.2" cy="313.8" r="1.75"/>
<circle cx="446.2" cy="324.6" r="1.75"/>
<circle cx="392.5" cy="357.1" r="1.75"/>
<circle cx="222.5" cy="313.8" r="1.75"/>
<circle cx="68.8" cy="308.4" r="1.75"/>
<circle cx="380.0" cy="330.0" r="1.75"/>
<circle cx="220.0" cy="351.7" r="1.75"/>
<circle cx="177.5" cy="319.2" r="1.75"/>
<circle cx="290.0" cy="297.5" r="1.75"/>
<circle cx="346.2" cy="324.6" r="1.75"/>
<circle cx="577.5" cy="297.5" r="1.75"/>
<circle cx="432.5" cy="324.6" r="1.75"/>
<circle cx="217.5" cy="319.2" r="1.75"/>
<circle cx="115.0" cy="308.4" r="1.75"/>
<circle cx="456.2" cy="308.4" r="1.75"/>
<circle cx="268.8" cy="313.8" r="1.75"/>
<circle cx="331.2" cy="346.3" r="1.75"/>
<circle cx="396.2" cy="346.3" r="1.75"/>
<circle cx="366.2" cy="346.3" r="1.75"/>
<circle cx="178.8" cy="297.5" r="1.75"/>
<circle cx="426.2" cy="330.0" r="1.75"/>
<circle cx="206.2" cy="357.1" r="1.75"/>
<circle cx="460.0" cy="319.2" r="1.75"/>
<circle cx="190.0" cy="330.0" r="1.75"/>
<circle cx="323.8" cy="324.6" r="1.75"/>
<circle cx="42.5" cy="297.5" r="1.75"/>
<circle cx="297.5" cy="351.7" r="1.75"/>
<circle cx="235.0" cy="351.7" r="1.75"/>
<circle cx="577.5" cy="313.8" r="1.75"/>
<circle cx="86.2" cy="270.5" r="1.75"/>
<circle cx="52.5" cy="292.1" r="1.75"/>
<circle cx="311.2" cy="330.0" r="1.75"/>
<circle cx="341.2" cy="308.4" r="1.75"/>
<circle cx="237.5" cy="292.1" r="1.75"/>
<circle cx="118.8" cy="303.0" r="1.75"/>
<circle cx="541.2" cy="297.5" r="1.75"/>
<circle cx="126.2" cy="286.7" r="1.75"/>
<circle cx="170.0" cy="308.4" r="1.75"/>
<circle cx="573.8" cy="340.8" r="1.75"/>
<circle cx="225.0" cy="324.6" r="1.75"/>
<circle cx="475.0" cy="340.8" r="1.75"/>
<circle cx="531.2" cy="313.8" r="1.75"/>
<circle cx="96.2" cy="303.0" r="1.75"/>
<circle cx="390.0" cy="340.8" r="1.75"/>
<circle cx="257.5" cy="324.6" r="1.75"/>
<circle cx="346.2" cy="330.0" r="1.75"/>
<circle cx="261.2" cy="297.5" r="1.75"/>
<circle cx="380.0" cy="351.7" r="1.75"/>
<circle cx="160.0" cy="308.4" r="1.75"/>
<circle cx="275.0" cy="319.2" r="1.75"/>
<circle cx="163.8" cy="303.0" r="1.75"/>
<circle cx="388.8" cy="308.4" r="1.75"/>
<circle cx="200.0" cy="313.8" r="1.75"/>
<circle cx="348.8" cy="330.0" r="1.75"/>
<circle cx="122.5" cy="292.1" r="1.75"/>
<circle cx="183.8" cy="346.3" r="1.75"/>
<circle cx="447.5" cy="330.0" r="1.75"/>
<circle cx="218.8" cy="340.8" r="1.75"/>
<circle cx="302.5" cy="330.0" r="1.75"/>
<circle cx="410.0" cy="335.4" r="1.75"/>
<circle cx="363.8" cy="351.7" r="1.75"/>
<circle cx="520.0" cy="313.8" r="1.75"/>
<circle cx="152.5" cy="297.5" r="1.75"/>
<circle cx="463.8" cy="346.3" r="1.75"/>
<circle cx="508.8" cy="308.4" r="1.75"/>
<circle cx="581.2" cy="292.1" r="1.75"/>
<circle cx="200.0" cy="319.2" r="1.75"/>
<circle cx="570.0" cy="319.2" r="1.75"/>
<circle cx="42.5" cy="286.7" r="1.75"/>
<circle cx="440.0" cy="340.8" r="1.75"/>
<circle cx="91.2" cy="286.7" r="1.75"/>
<circle cx="86.2" cy="275.9" r="1.75"/>
<circle cx="222.5" cy="303.0" r="1.75"/>
<circle cx="518.8" cy="330.0" r="1.75"/>
<circle cx="572.5" cy="308.4" r="1.75"/>
<circle cx="470.0" cy="330.0" r="1.75"/>
<circle cx="413.8" cy="313.8" r="1.75"/>
<circle cx="163.8" cy="308.4" r="1.75"/>
<circle cx="272.5" cy="330.0" r="1.75"/>
<circle cx="578.8" cy="319.2" r="1.75"/>
<circle cx="210.0" cy="324.6" r="1.75"/>
<circle cx="303.8" cy="340.8" r="1.75"/>
<circle cx="111.2" cy="319.2" r="1.75"/>
<circle cx="412.5" cy="324.6" r="1.75"/>
<circle cx="118.8" cy="313.8" r="1.75"/>
<circle cx="98.8" cy="324.6" r="1.75"/>
<circle cx="231.2" cy="362.5" r="1.75"/>
<circle cx="228.8" cy="324.6" r="1.75"/>
<circle cx="155.0" cy="275.9" r="1.75"/>
<circle cx="437.5" cy="340.8" r="1.75"/>
<circle cx="186.2" cy="319.2" r="1.75"/>
<circle cx="75.0" cy="286.7" r="1.75"/>
<circle cx="61.2" cy="319.2" r="1.75"/>
<circle cx="341.2" cy="330.0" r="1.75"/>
<circle cx="235.0" cy="303.0" r="1.75"/>
<circle cx="393.8" cy="335.4" r="1.75"/>
<circle cx="335.0" cy="351.7" r="1.75"/>
<circle cx="573.8" cy="324.6" r="1.75"/>
<circle cx="515.0" cy="324.6" r="1.75"/>
<circle cx="211.2" cy="346.3" r="1.75"/>
<circle cx="266.2" cy="313.8" r="1.75"/>
<circle cx="247.5" cy="330.0" r="1.75"/>
<circle cx="261.2" cy="292.1" r="1.75"/>
<circle cx="40.0" cy="243.4" r="1.75"/>
<circle cx="370.0" cy="319.2" r="1.75"/>
<circle cx="371.2" cy="340.8" r="1.75"/>
<circle cx="243.8" cy="324.6" r="1.75"/>
<circle cx="101.2" cy="292.1" r="1.75"/>
<circle cx="497.5" cy="319.2" r="1.75"/>
<circle cx="65.0" cy="340.8" r="1.75"/>
<circle cx="416.2" cy="340.8" r="1.75"/>
<circle cx="337.5" cy="303.0" r="1.75"/>
<circle cx="210.0" cy="330.0" r="1.75"/>
<circle cx="445.0" cy="335.4" r="1.75"/>
<circle cx="503.8" cy="346.3" r="1.75"/>
<circle cx="581.2" cy="319.2" r="1.75"/>
<circle cx="165.0" cy="330.0" r="1.75"/>
<circle cx="245.0" cy="346.3" r="1.75"/>
<circle cx="426.2" cy="346.3" r="1.75"/>
<circle cx="372.5" cy="319.2" r="1.75"/>
<circle cx="407.5" cy="340.8" r="1.75"/>
<circle cx="333.8" cy="308.4" r="1.75"/>
<circle cx="160.0" cy="319.2" r="1.75"/>
<circle cx="533.8" cy="324.6" r="1.75"/>
<circle cx="296.2" cy="340.8" r="1.75"/>
<circle cx="297.5" cy="357.1" r="1.75"/>
<circle cx="158.8" cy="286.7" r="1.75"/>
<circle cx="326.2" cy="303.0" r="1.75"/>
<circle cx="323.8" cy="362.5" r="1.75"/>
<circle cx="167.5" cy="319.2" r="1.75"/>
<circle cx="131.2" cy="308.4" r="1.75"/>
<circle cx="387.5" cy="351.7" r="1.75"/>
<circle cx="490.0" cy="303.0" r="1.75"/>
<circle cx="61.2" cy="324.6" r="1.75"/>
<circle cx="246.2" cy="313.8" r="1.75"/>
<circle cx="105.0" cy="335.4" r="1.75"/>
<circle cx="121.2" cy="313.8" r="1.75"/>
<circle cx="232.5" cy="319.2" r="1.75"/>
<circle cx="476.2" cy="346.3" r="1.75"/>
<circle cx="85.0" cy="303.0" r="1.75"/>
<circle cx="253.8" cy="303.0" r="1.75"/>
<circle cx="282.5" cy="335.4" r="1.75"/>
<circle cx="298.8" cy="330.0" r="1.75"/>
<circle cx="118.8" cy="340.8" r="1.75"/>
<circle cx="408.8" cy="346.3" r="1.75"/>
<circle cx="167.5" cy="297.5" r="1.75"/>
<circle cx="240.0" cy="335.4" r="1.75"/>
<circle cx="47.5" cy="281.3" r="1.75"/>
<circle cx="147.5" cy="319.2" r="1.75"/>
<circle cx="135.0" cy="319.2" r="1.75"/>
<circle cx="430.0" cy="335.4" r="1.75"/>
<circle cx="170.0" cy="303.0" r="1.75"/>
<circle cx="493.8" cy="308.4" r="1.75"/>
<circle cx="506.2" cy="308.4" r="1.75"/>
<circle cx="147.5" cy="335.4" r="1.75"/>
<circle cx="375.0" cy="319.2" r="1.75"/>
<circle cx="240.0" cy="308.4" r="1.75"/>
<circle cx="237.5" cy="319.2" r="1.75"/>
<circle cx="426.2" cy="335.4" r="1.75"/>
<circle cx="391.2" cy="319.2" r="1.75"/>
<circle cx="480.0" cy="335.4" r="1.75"/>
<circle cx="353.8" cy="313.8" r="1.75"/>
<circle cx="542.5" cy="303.0" r="1.75"/>
<circle cx="426.2" cy="292.1" r="1.75"/>
<circle cx="241.2" cy="335.4" r="1.75"/>
<circle cx="76.2" cy="313.8" r="1.75"/>
<circle cx="450.0" cy="351.7" r="1.75"/>
<circle cx="308.8" cy="324.6" r="1.75"/>
<circle cx="530.0" cy="319.2" r="1.75"/>
<circle cx="361.2" cy="335.4" r="1.75"/>
<circle cx="290.0" cy="367.9" r="1.75"/>
<circle cx="263.8" cy="324.6" r="1.75"/>
<circle cx="296.2" cy="324.6" r="1.75"/>
<circle cx="306.2" cy="346.3" r="1.75"/>
<circle cx="317.5" cy="324.6" r="1.75"/>
<circle cx="442.5" cy="357.1" r="1.75"/>
<circle cx="257.5" cy="303.0" r="1.75"/>
<circle cx="340.0" cy="319.2" r="1.75"/>
<circle cx="457.5" cy="335.4" r="1.75"/>
<circle cx="157.5" cy="319.2" r="1.75"/>
<circle cx="80.0" cy="297.5" r="1.75"/>
<circle cx="86.2" cy="308.4" r="1.75"/>
<circle cx="448.8" cy="340.8" r="1.75"/>
<circle cx="410.0" cy="335.4" r="1.75"/>
<circle cx="426.2" cy="335.4" r="1.75"/>
<circle cx="415.0" cy="330.0" r="1.75"/>
<circle cx="266.2" cy="378.7" r="1.75"/>
<circle cx="483.8" cy="357.1" r="1.75"/>
<circle cx="513.8" cy="308.4" r="1.75"/>
<circle cx="320.0" cy="319.2" r="1.75"/>
<circle cx="41.2" cy="281.3" r="1.75"/>
<circle cx="181.2" cy="324.6" r="1.75"/>
<circle cx="208.8" cy="330.0" r="1.75"/>
<circle cx="341.2" cy="292.1" r="1.75"/>
<circle cx="316.2" cy="340.8" r="1.75"/>
<circle cx="203.8" cy="324.6" r="1.75"/>
<circle cx="511.2" cy="308.4" r="1.75"/>
<circle cx="177.5" cy="351.7" r="1.75"/>
<circle cx="147.5" cy="292.1" r="1.75"/>
<circle cx="241.2" cy="319.2" r="1.75"/>
<circle cx="291.2" cy="357.1" r="1.75"/>
<circle cx="237.5" cy="324.6" r="1.75"/>
<circle cx="475.0" cy="319.2" r="1.75"/>
<circle cx="341.2" cy="292.1" r="1.75"/>
<circle cx="65.0" cy="308.4" r="1.75"/>
<circle cx="261.2" cy="308.4" r="1.75"/>
<circle cx="346.2" cy="330.0" r="1.75"/>
<circle cx="472.5" cy="319.2" r="1.75"/>
<circle cx="196.2" cy="335.4" r="1.75"/>
<circle cx="361.2" cy="357.1" r="1.75"/>
<circle cx="286.2" cy="319.2" r="1.75"/>
<circle cx="517.5" cy="324.6" r="1.75"/>
<circle cx="68.8" cy="324.6" r="1.75"/>
<circle cx="63.8" cy="286.7" r="1.75"/>
<circle cx="508.8" cy="303.0" r="1.75"/>
<circle cx="136.2" cy="308.4" r="1.75"/>
<circle cx="541.2" cy="346.3" r="1.75"/>
<circle cx="310.0" cy="346.3" r="1.75"/>
<circle cx="405.0" cy="340.8" r="1.75"/>
<circle cx="152.5" cy="324.6" r="1.75"/>
<circle cx="495.0" cy="303.0" r="1.75"/>
<circle cx="150.0" cy="281.3" r="1.75"/>
<circle cx="92.5" cy="275.9" r="1.75"/>
<circle cx="557.5" cy="303.0" r="1.75"/>
<circle cx="263.8" cy="335.4" r="1.75"/>
<circle cx="532.5" cy="330.0" r="1.75"/>
<circle cx="412.5" cy="330.0" r="1.75"/>
<circle cx="417.5" cy="324.6" r="1.75"/>
<circle cx="60.0" cy="292.1" r="1.75"/>
<circle cx="165.0" cy="324.6" r="1.75"/>
<circle cx="355.0" cy="335.4" r="1.75"/>
<circle cx="121.2" cy="297.5" r="1.75"/>
<circle cx="536.2" cy="335.4" r="1.75"/>
<circle cx="120.0" cy="286.7" r="1.75"/>
<circle cx="473.8" cy="313.8" r="1.75"/>
<circle cx="55.0" cy="303.0" r="1.75"/>
<circle cx="245.0" cy="335.4" r="1.75"/>
<circle cx="335.0" cy="335.4" r="1.75"/>
<circle cx="88.8" cy="330.0" r="1.75"/>
<circle cx="272.5" cy="330.0" r="1.75"/>
<circle cx="408.8" cy="308.4" r="1.75"/>
<circle cx="103.8" cy="281.3" r="1.75"/>
<circle cx="541.2" cy="281.3" r="1.75"/>
<circle cx="325.0" cy="330.0" r="1.75"/>
<circle cx="196.2" cy="340.8" r="1.75"/>
<circle cx="308.8" cy="313.8" r="1.75"/>
<circle cx="545.0" cy="303.0" r="1.75"/>
<circle cx="510.0" cy="308.4" r="1.75"/>
<circle cx="363.8" cy="335.4" r="1.75"/>
<circle cx="113.8" cy="313.8" r="1.75"/>
<circle cx="186.2" cy="297.5" r="1.75"/>
<circle cx="161.2" cy="330.0" r="1.75"/>
<circle cx="542.5" cy="297.5" r="1.75"/>
<circle cx="566.2" cy="313.8" r="1.75"/>
<circle cx="225.0" cy="303.0" r="1.75"/>
<circle cx="65.0" cy="308.4" r="1.75"/>
<circle cx="220.0" cy="340.8" r="1.75"/>
<circle cx="442.5" cy="330.0" r="1.75"/>
<circle cx="135.0" cy="313.8" r="1.75"/>
<circle cx="75.0" cy="319.2" r="1.75"/>
<circle cx="342.5" cy="308.4" r="1.75"/>
<circle cx="467.5" cy="319.2" r="1.75"/>
<circle cx="362.5" cy="335.4" r="1.75"/>
<circle cx="317.5" cy="330.0" r="1.75"/>
<circle cx="90.0" cy="308.4" r="1.75"/>
<circle cx="353.8" cy="335.4" r="1.75"/>
<circle cx="230.0" cy="340.8" r="1.75"/>
<circle cx="127.5" cy="297.5" r="1.75"/>
<circle cx="130.0" cy="303.0" r="1.75"/>
<circle cx="497.5" cy="330.0" r="1.75"/>
<circle cx="515.0" cy="330.0" r="1.75"/>
<circle cx="88.8" cy="297.5" r="1.75"/>
<circle cx="517.5" cy="303.0" r="1.75"/>
<circle cx="330.0" cy="313.8" r="1.75"/>
<circle cx="101.2" cy="313.8" r="1.75"/>
<circle cx="330.0" cy="324.6" r="1.75"/>
<circle cx="313.8" cy="340.8" r="1.75"/>
<circle cx="257.5" cy="319.2" r="1.75"/>
<circle cx="148.8" cy="303.0" r="1.75"/>
<circle cx="513.8" cy="308.4" r="1.75"/>
<circle cx="311.2" cy="335.4" r="1.75"/>
<circle cx="552.5" cy="319.2" r="1.75"/>
<circle cx="303.8" cy="330.0" r="1.75"/>
<circle cx="413.8" cy="351.7" r="1.75"/>
<circle cx="162.5" cy="313.8" r="1.75"/>
<circle cx="181.2" cy="330.0" r="1.75"/>
<circle cx="55.0" cy="313.8" r="1.75"/>
<circle cx="197.5" cy="313.8" r="1.75"/>
<circle cx="523.8" cy="297.5" r="1.75"/>
<circle cx="165.0" cy="303.0" r="1.75"/>
<circle cx="362.5" cy="324.6" r="1.75"/>
<circle cx="71.2" cy="330.0" r="1.75"/>
<circle cx="171.2" cy="351.7" r="1.75"/>
<circle cx="60.0" cy="330.0" r="1.75"/>
<circle cx="375.0" cy="346.3" r="1.75"/>
<circle cx="223.8" cy="357.1" r="1.75"/>
<circle cx="480.0" cy="362.5" r="1.75"/>
<circle cx="43.8" cy="286.7" r="1.75"/>
<circle cx="551.2" cy="335.4" r="1.75"/>
<circle cx="85.0" cy="292.1" r="1.75"/>
<circle cx="171.2" cy="319.2" r="1.75"/>
<circle cx="120.0" cy="340.8" r="1.75"/>
<circle cx="225.0" cy="319.2" r="1.75"/>
<circle cx="157.5" cy="303.0" r="1.75"/>
<circle cx="218.8" cy="270.5" r="1.75"/>
<circle cx="470.0" cy="340.8" r="1.75"/>
<circle cx="300.0" cy="362.5" r="1.75"/>
<circle cx="533.8" cy="319.2" r="1.75"/>
<circle cx="447.5" cy="346.3" r="1.75"/>
<circle cx="378.8" cy="340.8" r="1.75"/>
<circle cx="500.0" cy="324.6" r="1.75"/>
<circle cx="430.0" cy="340.8" r="1.75"/>
<circle cx="228.8" cy="303.0" r="1.75"/>
<circle cx="405.0" cy="297.5" r="1.75"/>
<circle cx="445.0" cy="313.8" r="1.75"/>
<circle cx="550.0" cy="297.5" r="1.75"/>
<circle cx="531.2" cy="319.2" r="1.75"/>
<circle cx="476.2" cy="357.1" r="1.75"/>
<circle cx="360.0" cy="357.1" r="1.75"/>
<circle cx="466.2" cy="319.2" r="1.75"/>
<circle cx="513.8" cy="330.0" r="1.75"/>
<circle cx="327.5" cy="286.7" r="1.75"/>
<circle cx="553.8" cy="286.7" r="1.75"/>
<circle cx="467.5" cy="303.0" r="1.75"/>
<circle cx="175.0" cy="313.8" r="1.75"/>
<circle cx="146.2" cy="324.6" r="1.75"/>
<circle cx="287.5" cy="335.4" r="1.75"/>
<circle cx="533.8" cy="297.5" r="1.75"/>
<circle cx="411.2" cy="335.4" r="1.75"/>
<circle cx="466.2" cy="346.3" r="1.75"/>
<circle cx="471.2" cy="346.3" r="1.75"/>
<circle cx="488.8" cy="362.5" r="1.75"/>
<circle cx="260.0" cy="308.4" r="1.75"/>
<circle cx="493.8" cy="313.8" r="1.75"/>
<circle cx="222.5" cy="351.7" r="1.75"/>
<circle cx="471.2" cy="346.3" r="1.75"/>
<circle cx="40.0" cy="297.5" r="1.75"/>
<circle cx="97.5" cy="303.0" r="1.75"/>
<circle cx="481.2" cy="346.3" r="1.75"/>
<circle cx="287.5" cy="324.6" r="1.75"/>
<circle cx="221.2" cy="324.6" r="1.75"/>
<circle cx="498.8" cy="308.4" r="1.75"/>
<circle cx="376.2" cy="335.4" r="1.75"/>
<circle cx="185.0" cy="319.2" r="1.75"/>
<circle cx="420.0" cy="351.7" r="1.75"/>
<circle cx="478.8" cy="319.2" r="1.75"/>
<circle cx="103.8" cy="308.4" r="1.75"/>
<circle cx="487.5" cy="330.0" r="1.75"/>
<circle cx="137.5" cy="319.2" r="1.75"/>
<circle cx="235.0" cy="286.7" r="1.75"/>
<circle cx="160.0" cy="292.1" r="1.75"/>
<circle cx="526.2" cy="330.0" r="1.75"/>
<circle cx="252.5" cy="367.9" r="1.75"/>
<circle cx="313.8" cy="335.4" r="1.75"/>
<circle cx="577.5" cy="308.4" r="1.75"/>
<circle cx="126.2" cy="286.7" r="1.75"/>
<circle cx="325.0" cy="319.2" r="1.75"/>
<circle cx="553.8" cy="319.2" r="1.75"/>
<circle cx="286.2" cy="330.0" r="1.75"/>
<circle cx="230.0" cy="335.4" r="1.75"/>
<circle cx="92.5" cy="335.4" r="1.75"/>
<circle cx="318.8" cy="340.8" r="1.75"/>
<circle cx="243.8" cy="297.5" r="1.75"/>
<circle cx="401.2" cy="346.3" r="1.75"/>
<circle cx="78.8" cy="313.8" r="1.75"/>
<circle cx="561.2" cy="330.0" r="1.75"/>
<circle cx="155.0" cy="373.3" r="1.75"/>
<circle cx="181.3" cy="389.5" r="1.75"/>
<circle cx="190.0" cy="389.0" r="1.75"/>
<circle cx="220.2" cy="417.0" r="1.75"/>
<circle cx="230.0" cy="378.5" r="1.75"/>
<circle cx="238.0" cy="384.0" r="1.75"/>
<circle cx="268.0" cy="378.5" r="1.75"/>
<circle cx="432.7" cy="373.3" r="1.75"/>
<circle cx="442.0" cy="373.3" r="1.75"/>
<circle cx="453.0" cy="375.8" r="1.75"/>
<circle cx="486.0" cy="373.3" r="1.75"/>
<circle cx="437.9" cy="389.5" r="1.75"/>
<circle cx="461.5" cy="389.5" r="1.75"/>
<circle cx="37.5" cy="247.0" r="1.75"/>
<circle cx="40.0" cy="345.0" r="1.75"/>
<circle cx="40.0" cy="360.0" r="1.75"/>
</g>
<path d="M37.4 319.5 L37.4 320.8 L38.5 321.2 L39.6 325.0 L40.3 325.3 L40.7 324.8 L41.8 321.7 L42.6 318.4 L42.9 318.3 L44.0 318.3 L45.1 316.3 L46.1 315.0 L46.2 315.6 L47.3 307.9 L48.4 301.0 L48.4 300.2 L49.5 296.7 L50.6 292.3 L50.7 292.0 L51.7 290.1 L52.8 288.5 L53.9 287.2 L55.0 285.7 L55.3 285.0 L56.1 283.1 L57.2 281.5 L58.3 280.4 L59.4 278.8 L59.9 278.0 L60.5 276.8 L61.6 275.6 L62.7 272.6 L63.3 272.4 L63.8 272.8 L64.9 272.9 L66.0 274.9 L66.8 274.7 L67.1 275.0 L68.2 274.5 L69.3 273.0 L70.4 271.6 L71.5 272.6 L72.5 270.8 L72.6 271.0 L73.7 273.1 L74.8 275.4 L74.8 275.9 L75.9 275.5 L77.0 276.1 L78.1 276.2 L79.2 275.2 L80.3 275.7 L81.4 274.2 L82.5 274.6 L82.9 274.7 L83.6 274.8 L84.7 275.5 L85.8 276.4 L86.9 278.3 L88.0 279.0 L89.1 278.4 L90.2 279.3 L90.9 280.5 L91.3 281.3 L92.4 281.2 L93.5 281.5 L94.6 281.6 L95.7 281.9 L96.7 281.6 L96.8 280.9 L97.9 278.7 L99.0 277.8 L100.1 275.3 L101.2 276.1 L102.3 273.3 L103.4 272.0 L104.5 271.1 L105.6 269.0 L105.9 267.8 L106.7 266.7 L107.8 266.4 L108.9 265.3 L110.0 266.5 L111.1 265.9 L112.2 264.7 L112.8 264.4 L113.3 263.6 L114.4 262.2 L115.5 261.7 L116.6 261.2 L117.7 260.5 L118.8 259.3 L119.7 257.5 L119.9 258.5 L121.0 257.7 L122.1 257.9 L123.2 257.9 L124.3 259.8 L124.3 258.6 L125.4 256.9 L126.5 255.9 L127.6 255.4 L128.7 256.1 L129.8 255.1 L130.0 254.0 L130.9 253.9 L132.0 255.6 L133.1 256.1 L133.4 255.2 L134.2 256.6 L135.3 258.1 L136.4 261.7 L136.9 262.0 L137.5 262.3 L138.6 262.9 L139.7 266.1 L140.0 265.4 L140.8 265.5 L141.9 265.8 L143.0 266.7 L143.8 266.7 L144.1 265.7 L145.2 263.8 L146.3 263.4 L147.4 262.1 L148.5 259.8 L149.6 259.4 L150.2 259.0 L150.7 259.8 L151.8 259.1 L152.9 260.4 L154.0 260.6 L155.1 259.8 L156.2 259.8 L157.3 261.9 L157.9 261.6 L158.4 262.3 L159.5 262.3 L160.6 262.8 L161.7 265.4 L162.8 266.3 L163.0 265.4 L163.9 264.4 L165.0 264.9 L166.1 264.5 L167.2 263.5 L168.3 262.4 L169.4 262.8 L170.5 263.2 L170.7 262.8 L171.6 262.2 L172.7 260.8 L173.8 258.7 L174.9 257.9 L176.0 257.0 L177.1 256.2 L178.2 254.9 L178.3 255.2 L179.3 255.0 L180.4 251.6 L181.5 252.5 L182.6 249.2 L183.5 248.8 L183.7 249.8 L184.8 248.3 L185.9 249.4 L187.0 249.0 L188.1 248.3 L189.2 250.5 L190.3 250.7 L191.1 250.0 L191.4 249.3 L192.5 250.4 L193.6 249.3 L194.7 250.4 L195.8 247.7 L196.9 248.3 L198.0 247.6 L199.1 248.4 L200.2 248.5 L201.3 248.4 L201.3 247.5 L202.4 247.0 L203.5 245.9 L204.6 246.3 L205.7 243.9 L206.8 243.6 L207.7 243.7 L207.9 244.4 L209.0 243.6 L210.1 245.1 L211.2 242.8 L212.3 243.9 L213.4 243.3 L214.5 242.8 L215.6 243.1 L216.7 243.1 L216.7 244.2 L217.8 244.1 L218.9 244.5 L220.0 244.9 L221.1 244.5 L222.2 245.8 L223.3 245.5 L224.3 245.7 L224.4 247.0 L225.5 245.0 L226.6 246.1 L227.7 246.2 L228.8 246.1 L229.9 247.5 L230.7 246.7 L231.0 246.6 L232.1 250.9 L233.2 252.0 L233.3 252.6 L234.3 251.8 L235.4 252.2 L236.5 251.7 L237.6 250.6 L238.7 249.7 L239.8 251.6 L240.9 249.7 L241.0 250.0 L242.0 248.6 L243.1 249.6 L244.2 248.9 L245.3 248.0 L246.4 247.6 L247.5 248.5 L248.6 246.8 L249.7 246.6 L249.9 246.7 L250.8 247.7 L251.9 246.0 L253.0 245.9 L254.1 245.1 L255.2 246.2 L256.3 246.0 L257.4 245.2 L258.5 244.9 L259.6 244.3 L260.1 244.9 L260.7 245.7 L261.8 245.0 L262.9 246.1 L264.0 245.0 L265.1 246.0 L266.2 244.3 L267.3 244.9 L267.8 245.7 L268.4 246.4 L269.5 244.6 L270.6 243.6 L271.7 242.2 L272.8 241.1 L272.9 241.1 L273.9 239.2 L275.0 237.9 L276.1 238.0 L277.2 236.9 L278.0 235.5 L278.3 234.9 L279.4 236.1 L280.5 234.9 L281.6 236.3 L282.7 235.3 L283.8 236.3 L284.9 235.9 L285.7 236.5 L286.0 236.8 L287.1 236.5 L288.2 238.1 L289.3 239.1 L290.4 238.6 L290.8 239.8 L291.5 240.7 L292.6 243.8 L293.7 245.7 L294.8 248.0 L295.1 248.3 L295.9 247.8 L297.0 245.6 L298.1 243.0 L299.2 241.9 L300.3 241.3 L301.4 238.9 L301.5 238.6 L302.5 238.9 L303.6 237.4 L304.7 237.2 L305.8 238.1 L306.9 237.2 L307.9 236.0 L308.0 236.4 L309.1 235.0 L310.2 236.3 L311.3 234.8 L312.4 237.1 L313.5 237.2 L314.6 236.6 L315.6 236.0 L315.7 235.5 L316.8 237.7 L317.9 236.7 L319.0 239.1 L320.1 239.1 L321.2 238.5 L322.3 241.5 L323.2 241.1 L323.4 241.1 L324.5 242.8 L325.6 243.2 L326.7 243.5 L327.8 245.1 L328.9 244.1 L330.0 246.6 L330.9 246.2 L331.1 246.0 L332.2 246.5 L333.3 248.6 L334.4 249.2 L335.5 250.5 L336.6 253.2 L337.7 253.2 L338.6 255.2 L338.8 254.2 L339.9 253.6 L341.0 252.7 L342.1 253.4 L343.2 252.5 L344.3 251.5 L345.0 250.0 L345.4 251.0 L346.5 249.0 L347.6 249.3 L348.7 247.4 L349.8 248.4 L350.9 247.5 L352.0 246.7 L353.1 244.7 L353.9 245.0 L354.2 243.7 L355.3 245.0 L356.4 243.1 L357.5 242.4 L358.6 242.1 L359.7 239.4 L360.3 239.8 L360.8 240.5 L361.9 240.4 L363.0 241.6 L364.1 241.2 L365.2 241.0 L366.3 243.4 L366.7 242.4 L367.4 242.1 L368.5 243.8 L369.6 244.4 L370.7 243.4 L371.8 245.0 L372.9 244.6 L373.1 245.0 L374.0 243.6 L375.1 242.6 L376.2 243.7 L377.3 241.2 L378.4 240.7 L379.5 239.8 L379.5 239.8 L380.6 238.3 L381.7 239.8 L382.8 239.5 L383.9 239.5 L385.0 237.9 L386.1 237.2 L387.2 237.2 L388.3 237.9 L388.4 237.3 L389.4 238.0 L390.5 237.6 L391.6 238.3 L392.7 237.6 L393.8 239.9 L394.8 239.1 L394.9 239.0 L396.0 239.0 L397.1 239.6 L398.2 238.0 L399.3 239.2 L399.9 238.6 L400.4 238.6 L401.5 240.6 L402.6 239.5 L403.7 240.7 L404.8 242.5 L405.9 242.9 L406.3 243.2 L407.0 243.2 L408.1 244.1 L409.2 243.6 L410.3 244.6 L411.4 243.9 L412.5 246.4 L412.7 245.7 L413.6 244.6 L414.7 245.5 L415.8 244.2 L416.5 243.7 L416.9 244.2 L418.0 244.8 L419.1 244.1 L420.2 246.3 L420.4 245.7 L421.3 245.0 L422.4 246.2 L423.5 245.8 L424.6 245.3 L425.7 245.5 L426.8 244.3 L427.9 244.7 L428.0 244.2 L429.0 245.1 L430.1 242.9 L431.2 242.4 L432.3 243.0 L433.4 243.0 L434.5 241.8 L435.6 241.7 L435.7 242.4 L436.7 242.9 L437.8 241.1 L438.9 239.9 L440.0 239.5 L441.1 239.9 L442.2 238.4 L443.3 238.6 L443.4 238.6 L444.4 237.7 L445.5 236.3 L446.6 235.3 L447.2 234.7 L447.7 235.7 L448.8 233.9 L449.9 236.5 L450.2 235.5 L451.0 235.0 L452.1 235.0 L453.2 237.3 L454.3 237.1 L455.3 237.3 L455.4 237.4 L456.5 237.2 L457.6 239.2 L458.7 238.5 L459.8 240.1 L460.9 239.4 L462.0 240.8 L463.0 241.1 L463.1 241.6 L464.2 241.6 L465.3 242.7 L466.4 242.4 L467.5 244.7 L468.6 245.7 L469.7 245.1 L470.7 246.7 L470.8 246.9 L471.9 247.8 L473.0 246.7 L474.1 249.1 L475.2 249.6 L476.3 248.0 L477.4 249.0 L478.3 250.0 L478.5 248.9 L479.6 249.5 L480.7 249.3 L481.8 250.5 L482.9 250.0 L484.0 250.3 L485.1 250.9 L486.2 250.8 L487.3 251.3 L487.3 252.1 L488.4 250.2 L489.5 247.0 L490.6 245.7 L491.7 243.5 L492.4 243.7 L492.8 243.1 L493.9 241.9 L495.0 242.9 L496.1 242.5 L497.2 242.5 L497.5 241.1 L498.3 240.5 L499.4 240.4 L500.5 242.5 L501.6 241.9 L502.6 242.4 L502.7 243.7 L503.8 243.9 L504.9 245.3 L506.0 246.4 L507.1 250.3 L507.7 250.0 L508.2 250.3 L509.3 250.8 L510.4 251.5 L511.5 253.0 L512.6 253.8 L513.7 253.6 L514.1 253.9 L514.8 253.3 L515.9 254.4 L517.0 256.1 L518.1 255.3 L519.2 256.4 L520.3 256.6 L521.4 256.7 L521.8 257.0 L522.5 257.3 L523.6 256.7 L524.7 257.7 L525.8 258.7 L526.9 256.9 L528.0 257.9 L529.1 259.4 L529.5 258.5 L530.2 258.7 L531.3 254.4 L532.4 254.3 L533.3 252.6 L533.5 252.5 L534.6 250.5 L535.7 247.0 L536.6 245.0 L536.8 244.4 L537.9 246.9 L539.0 250.0 L539.7 250.8 L540.1 251.6 L541.2 250.6 L542.3 252.2 L543.4 252.7 L544.5 253.1 L545.6 251.9 L546.7 253.5 L547.4 253.9 L547.8 253.6 L548.9 254.9 L550.0 254.8 L551.1 254.8 L552.2 256.7 L553.3 256.2 L553.7 257.0 L554.4 257.2 L555.5 255.1 L556.6 254.8 L557.6 253.9 L557.7 254.7 L558.8 253.2 L559.9 255.1 L561.0 253.7 L562.1 256.2 L563.2 254.1 L564.3 256.2 L565.2 255.9 L565.4 255.6 L566.5 255.4 L567.6 256.2 L568.7 256.7 L569.8 256.8 L570.9 256.3 L572.0 257.5 L572.9 257.7 L573.1 257.1 L574.2 258.7 L575.3 256.9 L576.4 256.9 L577.5 256.1 L578.6 257.9 L579.3 256.5 L579.7 255.9 L580.8 256.5 L581.9 256.7 L583.0 255.3 L584.1 255.9 L584.4 255.2 L584.4 255.2" fill="none" stroke="#f6780e" stroke-width="2.2" stroke-linejoin="round"/>
<path d="M37.4 300.4 L37.4 301.0 L38.5 292.3 L39.2 288.5 L39.6 291.9 L40.3 301.0 L40.7 302.3 L41.8 307.2 L42.6 309.0 L42.9 308.1 L44.0 308.0 L45.1 308.3 L46.1 307.0 L46.2 306.4 L47.3 306.1 L48.4 307.1 L49.5 306.8 L50.6 308.1 L50.7 307.0 L51.7 307.5 L52.8 305.2 L53.9 305.5 L55.0 304.5 L55.3 304.6 L56.1 303.7 L57.2 305.3 L58.3 306.9 L59.4 305.8 L60.5 307.0 L61.0 307.0 L61.6 308.1 L62.7 307.3 L63.3 309.0 L63.8 309.6 L64.9 306.5 L66.0 305.9 L66.8 305.7 L67.1 306.5 L68.2 305.5 L69.3 307.2 L70.4 307.3 L71.4 309.0 L71.5 309.1 L72.6 309.9 L73.7 312.2 L74.8 314.3 L74.8 315.0 L75.9 313.5 L77.0 313.0 L78.1 312.8 L79.2 313.2 L80.3 311.8 L80.6 312.6 L81.4 312.6 L82.5 310.5 L83.6 309.0 L84.7 307.8 L85.2 308.0 L85.8 308.8 L86.9 306.6 L88.0 308.2 L89.1 306.4 L90.2 308.4 L91.3 306.9 L92.1 307.0 L92.4 307.0 L93.5 306.8 L94.6 304.0 L95.7 303.0 L96.7 303.4 L96.8 304.0 L97.9 305.1 L99.0 306.9 L100.1 307.1 L101.2 309.1 L101.3 309.2 L102.3 309.6 L103.4 311.7 L104.5 312.7 L105.6 314.8 L105.9 315.0 L106.7 314.9 L107.8 315.4 L108.9 316.8 L110.0 315.9 L111.1 318.3 L112.2 318.1 L112.8 318.4 L113.3 318.0 L114.4 318.4 L115.5 320.0 L116.6 320.7 L117.7 321.9 L118.5 321.8 L118.8 321.9 L119.9 323.4 L121.0 326.1 L122.0 326.4 L122.1 325.9 L123.2 328.9 L124.3 329.9 L125.4 331.3 L125.4 330.0 L126.5 330.0 L127.6 327.1 L128.7 327.4 L128.9 326.4 L129.8 326.7 L130.9 325.6 L132.0 327.7 L133.1 326.8 L133.4 326.4 L134.2 325.9 L135.3 323.5 L136.4 320.4 L136.9 320.7 L137.5 321.8 L138.6 320.2 L139.7 320.6 L140.8 321.8 L141.9 320.9 L142.6 321.8 L143.0 321.5 L144.1 321.5 L145.2 319.3 L146.3 320.2 L147.4 318.1 L147.7 319.0 L148.5 318.9 L149.6 319.4 L150.7 319.5 L151.8 317.8 L152.9 318.2 L154.0 320.2 L155.1 318.7 L155.3 319.0 L156.2 318.6 L157.3 318.1 L158.4 318.6 L159.5 318.5 L160.6 317.9 L161.7 317.0 L162.8 317.1 L163.9 316.7 L164.3 316.5 L165.0 316.1 L166.1 318.7 L167.2 319.4 L168.3 319.6 L169.4 320.8 L170.5 320.1 L170.7 320.3 L171.6 322.5 L172.7 322.6 L173.8 325.6 L174.9 327.2 L175.8 328.0 L176.0 329.4 L177.1 330.4 L178.2 331.9 L179.3 331.6 L180.4 334.3 L181.5 334.8 L182.2 335.7 L182.6 335.1 L183.7 334.9 L184.8 335.7 L185.9 335.5 L187.0 335.2 L188.1 334.4 L189.2 332.8 L190.3 332.4 L191.1 333.1 L191.4 333.3 L192.5 332.6 L193.6 333.1 L194.7 332.7 L195.8 333.0 L196.9 334.6 L198.0 333.5 L198.8 334.4 L199.1 335.5 L200.2 334.8 L201.3 336.7 L202.4 335.9 L203.5 336.5 L204.6 337.5 L205.7 337.1 L206.8 338.8 L207.7 339.5 L207.9 339.1 L209.0 338.0 L210.1 340.0 L211.2 338.5 L212.3 337.3 L213.4 339.5 L214.1 338.2 L214.5 337.4 L215.6 337.2 L216.7 336.3 L217.8 336.3 L218.9 337.6 L220.0 337.0 L221.1 336.5 L222.2 335.6 L223.3 335.4 L224.3 335.7 L224.4 336.8 L225.5 334.4 L226.6 335.1 L227.7 334.0 L228.8 331.1 L229.9 332.1 L230.7 330.6 L231.0 330.5 L232.1 336.7 L232.5 337.7 L233.2 337.3 L234.3 335.0 L235.4 332.6 L235.8 331.8 L236.5 332.9 L237.6 331.6 L238.7 333.0 L239.8 332.7 L240.9 333.5 L242.0 333.3 L243.1 335.1 L244.2 335.2 L244.8 335.2 L245.3 336.0 L246.4 335.8 L247.5 335.9 L248.6 337.0 L249.7 336.9 L250.8 336.4 L251.9 336.0 L253.0 337.8 L254.1 336.5 L255.0 337.0 L255.2 336.0 L256.3 336.8 L257.4 337.9 L258.5 338.7 L259.6 338.1 L260.7 338.3 L261.8 339.2 L262.7 338.2 L262.9 338.8 L264.0 337.4 L265.1 336.9 L266.2 337.2 L267.3 335.5 L267.8 335.7 L268.4 335.3 L269.5 337.7 L270.6 339.3 L271.7 338.9 L272.8 341.2 L272.9 340.8 L273.9 342.8 L275.0 341.9 L276.1 343.1 L277.2 345.1 L278.0 345.9 L278.3 345.6 L279.4 347.8 L280.5 348.5 L281.6 347.6 L282.7 349.1 L283.1 348.5 L283.8 348.3 L284.9 346.3 L286.0 347.5 L287.1 344.6 L288.2 343.5 L288.2 344.6 L289.3 344.1 L290.4 342.6 L291.5 343.5 L292.6 342.9 L293.7 344.0 L294.8 342.2 L295.9 343.0 L295.9 342.1 L297.0 343.5 L298.1 343.7 L299.2 343.5 L300.3 344.3 L301.4 345.5 L302.5 345.9 L302.8 346.4 L303.6 346.8 L304.7 346.4 L305.8 345.9 L306.9 346.7 L308.0 347.7 L309.1 345.6 L310.2 346.0 L310.4 346.4 L311.3 344.5 L312.4 343.9 L313.5 343.0 L314.6 343.1 L315.7 343.4 L316.8 342.3 L317.9 342.2 L318.1 340.8 L319.0 341.0 L320.1 339.6 L321.2 338.8 L322.3 336.5 L323.4 336.7 L324.5 336.2 L324.5 335.6 L325.6 337.1 L326.7 336.2 L327.8 338.0 L328.3 338.2 L328.9 337.4 L330.0 336.9 L331.1 335.9 L332.2 334.3 L333.3 335.1 L333.5 334.4 L334.4 334.9 L335.5 334.0 L336.6 332.4 L337.7 333.3 L338.8 333.6 L339.9 333.6 L341.0 332.6 L342.1 330.4 L343.2 332.2 L343.7 331.1 L344.3 332.3 L345.4 332.6 L346.5 335.6 L347.5 335.7 L347.6 336.6 L348.7 337.2 L349.8 335.9 L350.9 337.2 L352.0 337.1 L352.6 337.7 L353.1 336.8 L354.2 337.3 L355.3 336.2 L356.4 335.2 L356.4 334.8 L357.5 336.4 L358.6 338.4 L359.7 338.5 L360.8 340.5 L361.9 340.6 L362.8 341.3 L363.0 342.6 L364.1 339.9 L365.2 340.9 L366.3 341.0 L367.4 341.4 L368.5 341.9 L369.6 340.9 L370.7 340.4 L371.8 340.3 L371.8 340.6 L372.9 340.7 L374.0 341.5 L375.1 342.4 L376.2 340.3 L377.3 341.4 L378.2 342.1 L378.4 343.3 L379.5 342.3 L380.6 345.3 L381.7 344.4 L382.0 345.9 L382.8 345.8 L383.9 345.6 L385.0 343.5 L386.1 343.3 L387.2 342.2 L388.3 342.9 L389.4 341.8 L390.5 341.4 L391.0 340.8 L391.6 340.5 L392.7 341.4 L393.8 342.6 L394.9 342.4 L396.0 343.1 L397.1 341.5 L398.2 342.5 L399.3 342.4 L399.9 342.8 L400.4 342.2 L401.5 343.1 L402.6 341.1 L403.7 341.7 L404.8 341.9 L405.9 342.0 L407.0 339.3 L408.1 339.6 L409.2 339.8 L410.1 339.5 L410.3 340.6 L411.4 338.4 L412.5 340.0 L413.6 338.6 L414.7 338.8 L415.8 339.6 L416.9 337.2 L418.0 337.7 L419.1 337.0 L420.2 336.8 L420.4 337.7 L421.3 337.3 L422.4 338.5 L423.5 338.3 L424.6 337.2 L425.7 339.1 L426.8 338.5 L427.9 337.7 L429.0 339.6 L429.3 338.8 L430.1 340.1 L431.2 339.2 L432.3 341.7 L433.4 342.1 L434.5 341.2 L435.6 341.3 L436.7 344.2 L437.0 343.4 L437.8 344.6 L438.9 343.1 L440.0 345.3 L441.1 345.7 L442.2 345.8 L443.3 346.7 L443.4 345.9 L444.4 348.0 L445.5 347.3 L446.4 348.5 L446.6 349.2 L447.7 348.5 L448.8 346.1 L449.9 346.1 L450.2 345.4 L451.0 345.7 L452.1 345.9 L453.2 345.0 L454.3 344.0 L455.4 343.7 L456.5 344.3 L457.6 343.0 L458.7 344.7 L459.8 344.5 L460.4 343.4 L460.9 342.6 L462.0 343.4 L463.1 342.9 L464.2 341.1 L465.3 342.5 L466.4 342.1 L467.5 340.5 L468.1 340.8 L468.6 339.4 L469.7 339.2 L470.8 339.7 L471.9 338.2 L473.0 338.4 L474.1 335.9 L475.2 335.1 L475.8 335.7 L476.3 335.2 L477.4 336.4 L478.5 334.4 L479.6 333.9 L480.7 335.5 L481.8 333.6 L482.9 334.9 L483.5 334.4 L484.0 332.8 L485.1 331.9 L486.2 331.8 L487.3 331.1 L488.0 329.3 L488.4 329.4 L489.5 330.5 L490.6 330.3 L491.7 332.1 L492.4 333.1 L492.8 333.2 L493.9 336.8 L495.0 338.2 L495.0 338.8 L496.1 337.8 L497.2 336.1 L498.3 335.4 L498.8 334.4 L499.4 333.6 L500.5 334.7 L501.6 334.8 L502.6 335.7 L502.7 335.0 L503.8 334.8 L504.9 332.1 L506.0 331.0 L507.1 329.5 L507.7 329.3 L508.2 330.1 L509.3 329.3 L510.4 328.7 L511.5 328.2 L512.6 329.4 L513.7 329.2 L514.1 328.0 L514.8 327.3 L515.9 326.8 L517.0 326.8 L518.1 324.4 L519.2 324.2 L519.2 323.6 L520.3 322.7 L521.4 323.3 L522.5 323.6 L523.6 321.5 L524.7 321.8 L525.6 321.6 L525.8 323.0 L526.9 322.4 L528.0 322.9 L529.1 324.8 L530.2 325.7 L530.7 325.0 L531.3 325.3 L532.4 325.9 L533.5 328.4 L534.6 329.3 L534.6 329.9 L535.7 332.6 L536.8 334.2 L537.1 334.4 L537.9 332.6 L539.0 331.3 L540.1 328.9 L541.0 328.0 L541.2 327.9 L542.3 327.9 L543.4 329.1 L544.5 329.1 L545.6 329.1 L546.7 327.9 L547.4 328.0 L547.8 328.9 L548.9 325.9 L550.0 327.2 L551.1 325.6 L552.2 325.4 L552.5 324.2 L553.3 324.2 L554.4 326.1 L555.5 324.0 L556.6 326.5 L557.7 326.7 L558.8 325.9 L559.9 327.5 L560.1 326.7 L561.0 326.4 L562.1 328.4 L563.2 328.2 L564.3 328.6 L565.2 329.3 L565.4 328.4 L566.5 329.2 L567.6 328.3 L568.7 325.9 L569.1 326.7 L569.8 327.5 L570.9 324.8 L572.0 324.5 L572.9 324.2 L573.1 324.2 L574.2 325.7 L575.3 327.6 L576.4 328.9 L576.7 328.0 L577.5 328.1 L578.6 327.0 L579.7 326.0 L580.6 326.7 L580.8 325.6 L581.9 327.2 L583.0 327.7 L584.1 327.8 L584.4 328.0 L584.4 328.0" fill="none" stroke="#0a9a3c" stroke-width="2.2" stroke-linejoin="round"/>
<line x1="585" x2="585" y1="105" y2="443" stroke="#999" stroke-width="1" stroke-dasharray="1.2 1.2"/>
</svg>
<div class="ylab" style="top:108.5px">80%</div>
<div class="ylab" style="top:162.5px">70</div>
<div class="ylab" style="top:217.6px">60</div>
<div class="ylab" style="top:271.7px;color:#222;font-weight:bold">50</div>
<div class="ylab" style="top:325.9px">40</div>
<div class="ylab" style="top:379.5px">30</div>
<div class="ylab" style="top:434.7px">20</div>
<div class="xlab" style="left:7.3px">JAN. 23</div>
<div class="xlab" style="left:81.5px">MARCH 23</div>
<div class="xlab" style="left:158px">MAY 23</div>
<div class="xlab" style="left:234.5px">JULY 23</div>
<div class="xlab" style="left:311.5px">SEPT. 23</div>
<div class="xlab" style="left:388.5px">NOV. 23</div>
<div class="xlab" style="left:465px">JAN. 23</div>
<div class="xlab" style="left:540.3px">MARCH 23</div>
<div class="day">DAY 440</div>
<svg style="position:absolute;left:470px;top:110px" width="225" height="35">
<rect x="8.3" y="6.1" width="208.9" height="21.9" fill="#222"/>
<rect x="9.6" y="7.4" width="206.3" height="19.3" fill="#fff"/>
<path d="M203 10.7 L206 15.6 L200 15.6Z M203 22.6 L206 17.7 L200 17.7Z" fill="#333"/>
</svg>
<div class="selt">All polls</div>
<div class="big" style="left:588px;top:234.3px;color:#f6780e">53.9</div>
<div class="pct" style="left:631px;top:236.5px;color:#f6780e">%</div>
<div class="lab" style="left:643.8px;top:236.8px">Disapprove</div>
<div class="big" style="left:588px;top:323.3px;color:#0a9a3c">40.1</div>
<div class="pct" style="left:631px;top:325.5px;color:#0a9a3c">%</div>
<div class="lab" style="left:643.8px;top:325.8px">Approve</div>

<div class="key" style="left:15.8px;top:469.4px;color:#999;letter-spacing:0.5px">KEY</div>
<div class="key" style="left:42.4px;top:469.4px">ESTIMATE</div>
<svg style="position:absolute;left:90px;top:460px" width="40" height="40" viewBox="0 0 40 40">
<path d="M2.4 6 L3.5 4 L5 5.5 L6.5 3.5 L8 5 L9.5 3 L11 4.5 L12.5 2.6 L14 4.5 L15.5 3 L17 5 L18.5 3.2 L20 4.8 L21.5 3.2 L23 4.6 L24.4 3.6 L24.4 22.6 L23 24 L21.5 22.4 L20 24 L18.5 22.6 L17 24.2 L15.5 22.6 L14 24 L12.5 22.4 L11 24 L9.5 22.4 L8 23.8 L6.5 22.2 L5 23.6 L3.5 22 L2.4 23Z" fill="#dcdcdc"/>
<path d="M2.6 13 L4.4 15.2 L6.4 13.2 L8.4 15.4 L10.2 13.4 L12.4 15.2 L14.5 14.2" fill="none" stroke="#111" stroke-width="2.3" stroke-linejoin="round"/>
<path d="M14.5 14.3 L24.4 14.3" stroke="#222" stroke-width="1" stroke-dasharray="1.4 1.1"/>
<path d="M24.4 14.3 L35 14.3" stroke="#222" stroke-width="1"/>
<path d="M10.3 24 L10.3 29.4" stroke="#222" stroke-width="1"/>
</svg>
<div class="key" style="left:125.6px;top:469.4px;letter-spacing:-0.1px">PROJECTION</div>
<div class="key" style="left:32.2px;width:141px;text-align:center;top:490.1px;letter-spacing:0">90% OF POLLS PROJECTED</div>
<div class="key" style="left:32.2px;width:141px;text-align:center;top:499.9px">TO FALL IN THIS RANGE</div>
<svg style="position:absolute;left:490px;top:455px" width="210" height="35">
<rect x="8.1" y="7.7" width="187" height="16.2" fill="#222"/>
<rect x="8.1" y="7.7" width="94.7" height="16.2" fill="#3a3a3a"/>
<rect x="102.85" y="8.9" width="91.05" height="13.8" fill="#fff"/>
</svg>
<div class="btn" style="left:498.1px;width:94.7px;color:#fff;font-weight:bold">TODAY</div>
<div class="btn" style="left:592.8px;width:91px;color:#222">4 YEARS</div>

<div style="left:95.3px;top:532.8px;width:58.7px;height:24px;background:#3c3c3c"></div>
<div class="th" style="left:98.4px;color:#fff;font-weight:bold;transform:scaleY(1.2);transform-origin:0 85%">DATES</div>
<div class="th" style="left:170.6px">POLLSTER</div>
<div class="th" style="left:348.7px">GRADE</div>
<div class="th" style="left:391.5px">SAMPLE</div>
<div class="th" style="left:450.4px">WEIGHT</div>
<div class="th" style="left:576.4px">ADJUSTED</div>
<div class="th" style="left:518.8px;top:544.3px;transform:rotate(-45deg);transform-origin:0 100%">APPROVE</div>
<div class="th" style="left:548.3px;top:544.3px;transform:rotate(-45deg);transform-origin:0 100%">DISAPPROVE</div>
<svg style="position:absolute;left:520px;top:530px" width="40" height="30"><line x1="8.5" y1="26" x2="24" y2="9.5" stroke="#e2e2e2" stroke-width="1"/></svg>
<div class="cell" style="left:501.0px;top:557.5px;width:27.0px;height:27.5px;background:#e2f0df;line-height:28.5px">38%</div>
<div class="cell" style="left:528.0px;top:557.5px;width:28.0px;height:27.5px;background:#fdae7b;line-height:28.5px">52%</div>
<div class="cell" style="left:569.0px;top:557.5px;width:27.6px;height:27.5px;background:#e2f0df;line-height:28.5px">39%</div>
<div class="cell" style="left:596.6px;top:557.5px;width:27.0px;height:27.5px;background:#fd9f63;line-height:28.5px">55%</div>
<div class="sep" style="top:584.1px"></div>
<div class="dot" style="top:569.9px"></div>
<div class="date" style="top:565.5px">APR. 1-3</div>
<div class="poll" style="top:565.0px">YouGov</div>
<div class="grade" style="top:562.1px">B</div>
<div class="mono samp" style="top:565.5px">1,500 <span class="pop">A</span></div>
<svg style="position:absolute;left:443.9px;top:563.70px" width="17" height="13"><rect x="0.4" y="9.6" width="1.6" height="2.6" fill="#7f7f7f"/><rect x="2.8" y="8.0" width="3.0" height="4.2" fill="#7f7f7f"/><rect x="5.8" y="5.5" width="3.1" height="6.7" fill="#7f7f7f"/><rect x="10.2" y="2.8" width="2.0" height="9.4" fill="#e7e7e7"/><rect x="13.2" y="0.2" width="2.5" height="12.0" fill="#e7e7e7"/></svg>
<div class="mono wt" style="top:565.5px">1.13</div>
<div class="cell" style="left:501.0px;top:585.0px;width:27.0px;height:28.0px;background:#8fcb8a;line-height:29.0px">49%</div>
<div class="cell" style="left:528.0px;top:585.0px;width:28.0px;height:28.0px;background:#fdb98d;line-height:29.0px">50%</div>
<div class="cell" style="left:569.0px;top:585.0px;width:27.6px;height:28.0px;background:#c2e3bd;line-height:29.0px">44%</div>
<div class="cell" style="left:596.6px;top:585.0px;width:27.0px;height:28.0px;background:#fdb98d;line-height:29.0px">50%</div>
<div class="sep" style="top:612.1px"></div>
<div class="dot" style="top:597.7px"></div>
<div class="date" style="top:593.3px">MAR. 29-APR. 2</div>
<div class="poll" style="top:589.5px;line-height:10px">Rasmussen Reports/Pulse Opinion<br>Research</div>
<div class="grade" style="top:589.9px">C+</div>
<div class="mono samp" style="top:593.3px">1,500 <span class="pop">LV</span></div>
<svg style="position:absolute;left:443.9px;top:591.45px" width="17" height="13"><rect x="0.4" y="9.6" width="1.6" height="2.6" fill="#7f7f7f"/><rect x="2.8" y="8.0" width="3.0" height="4.2" fill="#7f7f7f"/><rect x="5.8" y="5.5" width="3.1" height="6.7" fill="#7f7f7f"/><rect x="10.2" y="2.8" width="2.0" height="9.4" fill="#e7e7e7"/><rect x="13.2" y="0.2" width="2.5" height="12.0" fill="#e7e7e7"/></svg>
<div class="mono wt" style="top:593.3px">0.78</div>
<div class="cell" style="left:501.0px;top:613.0px;width:27.0px;height:28.0px;background:#e2f0df;line-height:29.0px">39%</div>
<div class="cell" style="left:528.0px;top:613.0px;width:28.0px;height:28.0px;background:#fd9c5e;line-height:29.0px">56%</div>
<div class="cell" style="left:569.0px;top:613.0px;width:27.6px;height:28.0px;background:#e2f0df;line-height:29.0px">39%</div>
<div class="cell" style="left:596.6px;top:613.0px;width:27.0px;height:28.0px;background:#fd9f63;line-height:29.0px">55%</div>
<div class="sep" style="top:640.1px"></div>
<div class="dot" style="top:625.7px"></div>
<div class="date" style="top:621.3px">MAR. 29-APR. 2</div>
<div class="poll" style="top:620.8px">Ipsos</div>
<div class="grade" style="top:617.9px">A-</div>
<div class="mono samp" style="top:621.3px">1,907 <span class="pop">A</span></div>
<svg style="position:absolute;left:443.9px;top:619.45px" width="17" height="13"><rect x="0.4" y="9.6" width="1.6" height="2.6" fill="#7f7f7f"/><rect x="2.8" y="8.0" width="3.0" height="4.2" fill="#7f7f7f"/><rect x="5.8" y="5.5" width="3.1" height="6.7" fill="#7f7f7f"/><rect x="10.2" y="2.8" width="2.0" height="9.4" fill="#7f7f7f"/><rect x="13.2" y="0.2" width="2.5" height="12.0" fill="#7f7f7f"/></svg>
<div class="mono wt" style="top:621.3px">2.22</div>
<div class="cell" style="left:501.0px;top:641.0px;width:27.0px;height:28.0px;background:#c8e6c4;line-height:29.0px">42%</div>
<div class="cell" style="left:528.0px;top:641.0px;width:28.0px;height:28.0px;background:#fda56c;line-height:29.0px">54%</div>
<div class="cell" style="left:569.0px;top:641.0px;width:27.6px;height:28.0px;background:#e2f0df;line-height:29.0px">38%</div>
<div class="cell" style="left:596.6px;top:641.0px;width:27.0px;height:28.0px;background:#fd9654;line-height:29.0px">57%</div>
<div class="sep" style="top:668.1px"></div>
<div class="dot" style="top:653.7px"></div>
<div class="date" style="top:649.3px">MAR. 29-APR. 1</div>
<div class="poll" style="top:648.8px">Morning Consult</div>
<div class="mono samp" style="top:649.3px">1,997 <span class="pop">RV</span></div>
<svg style="position:absolute;left:443.9px;top:647.45px" width="17" height="13"><rect x="0.4" y="9.6" width="1.6" height="2.6" fill="#7f7f7f"/><rect x="2.8" y="8.0" width="3.0" height="4.2" fill="#7f7f7f"/><rect x="5.8" y="5.5" width="3.1" height="6.7" fill="#7f7f7f"/><rect x="10.2" y="2.8" width="2.0" height="9.4" fill="#e7e7e7"/><rect x="13.2" y="0.2" width="2.5" height="12.0" fill="#e7e7e7"/></svg>
<div class="mono wt" style="top:649.3px">0.77</div>
<div class="cell" style="left:501.0px;top:669.0px;width:27.0px;height:28.0px;background:#e2f0df;line-height:29.0px">39%</div>
<div class="cell" style="left:528.0px;top:669.0px;width:28.0px;height:28.0px;background:#fd9f63;line-height:29.0px">55%</div>
<div class="cell" style="left:569.0px;top:669.0px;width:27.6px;height:28.0px;background:#dcedd9;line-height:29.0px">40%</div>
<div class="cell" style="left:596.6px;top:669.0px;width:27.0px;height:28.0px;background:#fdaa74;line-height:29.0px">53%</div>
<div class="sep" style="top:696.1px"></div>
<div class="dot" style="top:681.7px"></div>
<div class="date" style="top:677.3px">MAR. 25-31</div>
<div class="poll" style="top:676.8px">Gallup</div>
<div class="grade" style="top:673.9px">B-</div>
<div class="mono samp" style="top:677.3px">1,500 <span class="pop">A</span></div>
<svg style="position:absolute;left:443.9px;top:675.45px" width="17" height="13"><rect x="0.4" y="9.6" width="1.6" height="2.6" fill="#7f7f7f"/><rect x="2.8" y="8.0" width="3.0" height="4.2" fill="#7f7f7f"/><rect x="5.8" y="5.5" width="3.1" height="6.7" fill="#7f7f7f"/><rect x="10.2" y="2.8" width="2.0" height="9.4" fill="#7f7f7f"/><rect x="13.2" y="0.2" width="2.5" height="12.0" fill="#e7e7e7"/></svg>
<div class="mono wt" style="top:677.3px">1.75</div>
<div style="left:90px;top:555.8px;width:437.6px;height:1.9px;background:#222"></div>
<div style="left:529px;top:555.8px;width:67px;height:1.9px;background:#222"></div>
<div style="left:597.2px;top:555.8px;width:26.4px;height:1.9px;background:#222"></div>
<div style="left:375px;top:557px;width:1px;height:140px;background:#222"></div>
<div style="left:500px;top:557px;width:1px;height:140px;background:#222"></div>
<div class="more">Show more polls</div>
<div class="foot" style="left:315.3px;color:#999;letter-spacing:0.5px">KEY</div>
<svg style="position:absolute;left:338px;top:746px" width="12" height="12"><circle cx="5.8" cy="5.9" r="1.7" fill="#999"/></svg>
<div class="foot" style="left:349.4px;letter-spacing:0.3px">= NEW</div>
<div class="foot" style="left:384.8px;letter-spacing:0.3px">A = ALL ADULTS</div>
<div class="foot" style="left:455.5px">RV = REGISTERED VOTERS</div>
<div class="foot" style="left:566.8px">LV = LIKELY VOTERS</div>
<div class="foot" style="left:653.7px">V = VOTERS</div>
</body></html>
